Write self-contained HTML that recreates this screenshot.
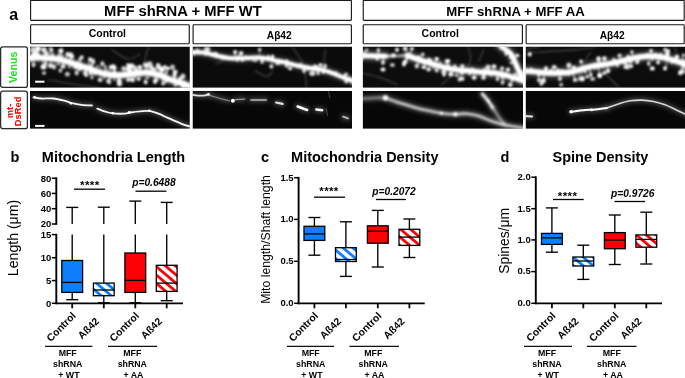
<!DOCTYPE html>
<html><head><meta charset="utf-8"><title>Figure</title>
<style>html,body{margin:0;padding:0;background:#fff}svg{display:block}</style></head>
<body>
<svg width="685" height="378" viewBox="0 0 685 378" font-family='"Liberation Sans", sans-serif'>
<defs>
<pattern id="hb" width="6.4" height="6.4" patternUnits="userSpaceOnUse" patternTransform="rotate(40)"><rect width="6.4" height="6.4" fill="#fff"/><rect width="6.5" height="2.8" fill="#0c80fc"/></pattern>
<pattern id="hr" width="6.4" height="6.4" patternUnits="userSpaceOnUse" patternTransform="rotate(40)"><rect width="6.4" height="6.4" fill="#fff"/><rect width="6.5" height="2.8" fill="#fb0207"/></pattern>
<filter id="b1" filterUnits="userSpaceOnUse" x="0" y="30" width="685" height="120"><feGaussianBlur stdDeviation="0.8"/></filter>
<filter id="b2" filterUnits="userSpaceOnUse" x="0" y="30" width="685" height="120"><feGaussianBlur stdDeviation="0.75"/></filter>
<filter id="b4" filterUnits="userSpaceOnUse" x="0" y="30" width="685" height="120"><feGaussianBlur stdDeviation="1.25"/></filter>
<filter id="b3" filterUnits="userSpaceOnUse" x="0" y="30" width="685" height="120"><feGaussianBlur stdDeviation="2.0"/></filter>
</defs>
<rect width="685" height="378" fill="#fff"/>
<rect x="30.6" y="0.3" width="320.80" height="20.10" fill="#fff" stroke="#1a1a1a" stroke-width="1.15" rx="0.8"/>
<rect x="363.25" y="0.3" width="320.95" height="20.10" fill="#fff" stroke="#1a1a1a" stroke-width="1.15" rx="0.8"/>
<text x="182.9" y="15.7" font-size="14.3" font-weight="bold" text-anchor="middle" fill="#000" textLength="157.6" lengthAdjust="spacingAndGlyphs">MFF shRNA + MFF WT</text>
<text x="515.5" y="16.1" font-size="13.7" font-weight="bold" text-anchor="middle" fill="#000" textLength="138.4" lengthAdjust="spacingAndGlyphs">MFF shRNA + MFF AA</text>
<rect x="30.6" y="24.7" width="158.65" height="19.05" fill="#fff" stroke="#1a1a1a" stroke-width="1.15" rx="0.8"/>
<text x="107.325" y="37.4" font-size="10.5" font-weight="bold" text-anchor="middle" fill="#000">Control</text>
<rect x="193.1" y="24.7" width="158.30" height="19.05" fill="#fff" stroke="#1a1a1a" stroke-width="1.15" rx="0.8"/>
<text x="279.25" y="38.8" font-size="10.2" font-weight="bold" text-anchor="middle" fill="#000">Aβ42</text>
<rect x="363.25" y="24.7" width="159.15" height="19.05" fill="#fff" stroke="#1a1a1a" stroke-width="1.15" rx="0.8"/>
<text x="440.22499999999997" y="37.4" font-size="10.5" font-weight="bold" text-anchor="middle" fill="#000">Control</text>
<rect x="526.15" y="24.7" width="158.05" height="19.05" fill="#fff" stroke="#1a1a1a" stroke-width="1.15" rx="0.8"/>
<text x="612.175" y="38.8" font-size="10.2" font-weight="bold" text-anchor="middle" fill="#000">Aβ42</text>
<text x="13.7" y="19.6" font-size="16" font-weight="bold" text-anchor="middle" fill="#000">a</text>
<rect x="0.6" y="46.8" width="26.80" height="40.60" fill="#fff" stroke="#2a2a2a" stroke-width="1.3" rx="2.2"/>
<rect x="0.6" y="91.2" width="26.80" height="37.40" fill="#fff" stroke="#2a2a2a" stroke-width="1.3" rx="2.2"/>
<text x="17.3" y="67.3" font-size="10.7" font-weight="bold" text-anchor="middle" fill="#14e614" transform="rotate(-90 17.3 67.3)">Venus</text>
<text x="12.5" y="111" font-size="9.3" font-weight="bold" text-anchor="middle" fill="#f00" transform="rotate(-90 12.5 111)">mt-</text>
<text x="21.5" y="111.4" font-size="9.3" font-weight="bold" text-anchor="middle" fill="#f00" transform="rotate(-90 21.5 111.4)">DsRed</text>
<clipPath id="cv0"><rect x="30.0" y="46.5" width="159.85" height="41.30"/></clipPath>
<g clip-path="url(#cv0)"><rect x="30.0" y="46.5" width="159.85" height="41.30" fill="#0c0c0c"/>
<g filter="url(#b1)" fill="none" stroke="#fff" stroke-opacity=".25" stroke-width="1.1" stroke-linecap="round">
<path d="M111.8,49.7 C114.5,51.2 123.4,58.2 128.1,59.0 C132.8,59.8 137.8,55.1 139.8,54.3"/>
<path d="M144.5,63.7 C144.8,61.7 146.0,54.7 146.8,52.0 C147.6,49.3 148.7,48.1 149.1,47.3"/>
<path d="M48.7,80.0 C53.4,80.8 68.2,83.3 76.7,84.7 C85.3,86.1 96.2,87.6 100.1,88.2"/>
</g>
<g filter="url(#b3)" fill="none" stroke="#fff" stroke-opacity="0.3" stroke-linecap="round">
<path d="M27.7,57.8 C30.0,57.8 37.4,57.7 41.7,57.8 C46.0,58.0 49.5,58.0 53.4,58.5 C57.3,59.1 61.1,59.8 65.0,60.9 C68.9,61.9 72.8,63.6 76.7,64.9 C80.6,66.1 84.5,67.1 88.4,68.4 C92.3,69.6 96.2,71.5 100.1,72.6 C104.0,73.7 107.9,74.5 111.8,74.9 C115.6,75.3 119.5,75.1 123.4,74.9 C127.3,74.7 131.2,73.9 135.1,73.5 C139.0,73.1 142.9,72.3 146.8,72.6 C150.7,72.8 154.6,73.7 158.5,74.9 C162.4,76.1 166.3,78.1 170.1,79.6 C174.0,81.0 177.9,82.3 181.8,83.5 C185.7,84.8 191.6,86.5 193.5,87.0" stroke-width="9.6"/>
</g>
<g filter="url(#b1)" fill="#fff" stroke="#fff" stroke-linecap="round">
<path d="M27.7,57.8 C30.0,57.8 37.4,57.7 41.7,57.8 C46.0,58.0 49.5,58.0 53.4,58.5 C57.3,59.1 61.1,59.8 65.0,60.9 C68.9,61.9 72.8,63.6 76.7,64.9 C80.6,66.1 84.5,67.1 88.4,68.4 C92.3,69.6 96.2,71.5 100.1,72.6 C104.0,73.7 107.9,74.5 111.8,74.9 C115.6,75.3 119.5,75.1 123.4,74.9 C127.3,74.7 131.2,73.9 135.1,73.5 C139.0,73.1 142.9,72.3 146.8,72.6 C150.7,72.8 154.6,73.7 158.5,74.9 C162.4,76.1 166.3,78.1 170.1,79.6 C174.0,81.0 177.9,82.3 181.8,83.5 C185.7,84.8 191.6,86.5 193.5,87.0" stroke-width="5.6" fill="none"/>
<circle cx="32.2" cy="54.6" r="0.9" stroke="none"/>
<circle cx="39.2" cy="54.7" r="0.9" stroke="none"/>
<circle cx="34.8" cy="55.5" r="1.2" stroke="none"/>
<circle cx="31.0" cy="60.2" r="1.2" stroke="none"/>
<circle cx="53.0" cy="54.7" r="1.1" stroke="none"/>
<circle cx="53.3" cy="54.8" r="1.0" stroke="none"/>
<circle cx="46.8" cy="54.4" r="1.2" stroke="none"/>
<circle cx="62.1" cy="56.4" r="1.3" stroke="none"/>
<circle cx="58.4" cy="55.7" r="1.3" stroke="none"/>
<circle cx="58.3" cy="64.0" r="1.2" stroke="none"/>
<circle cx="74.9" cy="67.4" r="1.4" stroke="none"/>
<circle cx="74.0" cy="61.4" r="1.1" stroke="none"/>
<circle cx="69.5" cy="66.9" r="1.1" stroke="none"/>
<circle cx="77.6" cy="61.4" r="1.0" stroke="none"/>
<circle cx="79.7" cy="69.3" r="1.5" stroke="none"/>
<circle cx="76.7" cy="68.1" r="1.1" stroke="none"/>
<circle cx="81.8" cy="68.8" r="1.0" stroke="none"/>
<circle cx="80.5" cy="63.6" r="1.3" stroke="none"/>
<circle cx="95.0" cy="73.9" r="1.1" stroke="none"/>
<circle cx="97.8" cy="66.6" r="1.1" stroke="none"/>
<circle cx="94.7" cy="73.1" r="1.4" stroke="none"/>
<circle cx="91.0" cy="65.8" r="1.5" stroke="none"/>
<circle cx="106.5" cy="70.4" r="1.2" stroke="none"/>
<circle cx="109.5" cy="79.1" r="1.1" stroke="none"/>
<circle cx="104.1" cy="77.5" r="1.1" stroke="none"/>
<circle cx="114.4" cy="72.3" r="1.0" stroke="none"/>
<circle cx="114.5" cy="79.4" r="1.0" stroke="none"/>
<circle cx="115.0" cy="71.6" r="1.1" stroke="none"/>
<circle cx="129.6" cy="70.0" r="1.2" stroke="none"/>
<circle cx="130.2" cy="70.6" r="1.4" stroke="none"/>
<circle cx="134.9" cy="76.8" r="1.1" stroke="none"/>
<circle cx="140.9" cy="75.4" r="0.9" stroke="none"/>
<circle cx="137.4" cy="70.9" r="1.3" stroke="none"/>
<circle cx="136.0" cy="69.7" r="1.5" stroke="none"/>
<circle cx="154.9" cy="69.4" r="1.3" stroke="none"/>
<circle cx="147.6" cy="77.7" r="1.3" stroke="none"/>
<circle cx="153.2" cy="69.2" r="1.5" stroke="none"/>
<circle cx="162.8" cy="79.9" r="1.0" stroke="none"/>
<circle cx="165.9" cy="81.7" r="1.3" stroke="none"/>
<circle cx="166.3" cy="72.8" r="1.2" stroke="none"/>
<circle cx="161.8" cy="71.6" r="1.1" stroke="none"/>
<circle cx="179.0" cy="78.2" r="1.1" stroke="none"/>
<circle cx="175.4" cy="78.0" r="1.0" stroke="none"/>
<circle cx="175.2" cy="85.5" r="1.3" stroke="none"/>
<circle cx="180.8" cy="78.5" r="1.4" stroke="none"/>
<circle cx="191.2" cy="83.5" r="1.2" stroke="none"/>
<circle cx="191.6" cy="81.9" r="1.2" stroke="none"/>
<circle cx="183.1" cy="87.5" r="1.5" stroke="none"/>
<circle cx="192.7" cy="89.3" r="1.0" stroke="none"/>
<path d="M33.5,57.8 L33.5,49.7" stroke-width="1.8" stroke-opacity="0.46" fill="none"/>
<ellipse cx="33.5" cy="49.7" rx="2.9" ry="3.5" stroke="none" fill-opacity="0.80"/>
<path d="M38.2,57.8 L38.2,48.5" stroke-width="1.4" stroke-opacity="0.31" fill="none"/>
<ellipse cx="38.2" cy="48.5" rx="2.6" ry="3.1" stroke="none" fill-opacity="1.00"/>
<path d="M43.5,58.0 L44.0,49.7" stroke-width="1.6" stroke-opacity="0.42" fill="none"/>
<ellipse cx="44.0" cy="49.7" rx="2.8" ry="2.8" stroke="none" fill-opacity="0.88"/>
<path d="M35.8,57.8 L35.8,53.9" stroke-width="1.8" stroke-opacity="0.60" fill="none"/>
<ellipse cx="35.8" cy="53.9" rx="3.7" ry="2.9" stroke="none" fill-opacity="0.91"/>
<path d="M46.1,58.1 L46.4,53.2" stroke-width="1.6" stroke-opacity="0.30" fill="none"/>
<ellipse cx="46.4" cy="53.2" rx="2.4" ry="2.3" stroke="none" fill-opacity="0.80"/>
<path d="M58.6,59.6 L60.4,50.8" stroke-width="2.2" stroke-opacity="0.54" fill="none"/>
<ellipse cx="60.4" cy="50.8" rx="2.6" ry="1.9" stroke="none" fill-opacity="0.78"/>
<path d="M65.1,60.9 L67.4,54.3" stroke-width="2.1" stroke-opacity="0.43" fill="none"/>
<ellipse cx="67.4" cy="54.3" rx="1.9" ry="2.5" stroke="none" fill-opacity="0.91"/>
<path d="M70.0,62.6 L72.0,56.7" stroke-width="1.8" stroke-opacity="0.58" fill="none"/>
<ellipse cx="72.0" cy="56.7" rx="2.2" ry="2.3" stroke="none" fill-opacity="0.85"/>
<path d="M78.3,65.3 L80.2,59.0" stroke-width="1.5" stroke-opacity="0.31" fill="none"/>
<ellipse cx="80.2" cy="59.0" rx="1.7" ry="2.0" stroke="none" fill-opacity="0.76"/>
<path d="M90.3,69.0 L93.1,61.4" stroke-width="2.2" stroke-opacity="0.36" fill="none"/>
<ellipse cx="93.1" cy="61.4" rx="2.1" ry="3.0" stroke="none" fill-opacity="0.83"/>
<path d="M99.3,72.3 L102.4,63.7" stroke-width="1.5" stroke-opacity="0.35" fill="none"/>
<ellipse cx="102.4" cy="63.7" rx="2.2" ry="2.4" stroke="none" fill-opacity="0.80"/>
<path d="M109.1,74.4 L110.6,67.2" stroke-width="1.6" stroke-opacity="0.56" fill="none"/>
<ellipse cx="110.6" cy="67.2" rx="1.8" ry="2.4" stroke="none" fill-opacity="0.91"/>
<path d="M124.2,74.8 L123.4,68.4" stroke-width="1.9" stroke-opacity="0.36" fill="none"/>
<ellipse cx="123.4" cy="68.4" rx="2.1" ry="2.4" stroke="none" fill-opacity="0.79"/>
<path d="M131.3,74.0 L130.4,67.2" stroke-width="2.2" stroke-opacity="0.49" fill="none"/>
<ellipse cx="130.4" cy="67.2" rx="1.8" ry="2.4" stroke="none" fill-opacity="0.77"/>
<path d="M140.3,73.1 L139.8,67.2" stroke-width="1.9" stroke-opacity="0.57" fill="none"/>
<ellipse cx="139.8" cy="67.2" rx="2.5" ry="2.3" stroke="none" fill-opacity="0.95"/>
<path d="M146.8,72.6 L146.8,66.0" stroke-width="1.9" stroke-opacity="0.29" fill="none"/>
<ellipse cx="146.8" cy="66.0" rx="2.4" ry="2.3" stroke="none" fill-opacity="0.82"/>
<path d="M150.2,73.3 L151.5,67.2" stroke-width="1.7" stroke-opacity="0.51" fill="none"/>
<ellipse cx="151.5" cy="67.2" rx="2.1" ry="2.4" stroke="none" fill-opacity="0.88"/>
<path d="M158.5,74.9 L160.8,68.4" stroke-width="1.9" stroke-opacity="0.59" fill="none"/>
<ellipse cx="160.8" cy="68.4" rx="1.9" ry="2.5" stroke="none" fill-opacity="0.94"/>
<path d="M164.3,77.2 L167.8,68.4" stroke-width="2.0" stroke-opacity="0.65" fill="none"/>
<ellipse cx="167.8" cy="68.4" rx="2.2" ry="1.8" stroke="none" fill-opacity="0.95"/>
<ellipse cx="172.5" cy="67.2" rx="2.4" ry="2.7" stroke="none" fill-opacity="0.76"/>
<ellipse cx="44.0" cy="73.0" rx="2.1" ry="1.7" stroke="none" fill-opacity="0.84"/>
<path d="M62.4,60.4 L60.4,70.7" stroke-width="1.8" stroke-opacity="0.30" fill="none"/>
<ellipse cx="60.4" cy="70.7" rx="1.9" ry="2.1" stroke="none" fill-opacity="0.75"/>
<ellipse cx="67.4" cy="74.2" rx="2.5" ry="2.4" stroke="none" fill-opacity="0.77"/>
<path d="M79.0,65.5 L76.7,73.0" stroke-width="1.8" stroke-opacity="0.46" fill="none"/>
<ellipse cx="76.7" cy="73.0" rx="2.1" ry="2.4" stroke="none" fill-opacity="0.77"/>
<path d="M92.0,69.6 L90.7,73.0" stroke-width="1.6" stroke-opacity="0.58" fill="none"/>
<ellipse cx="90.7" cy="73.0" rx="1.9" ry="2.2" stroke="none" fill-opacity="0.96"/>
<path d="M101.5,72.8 L100.1,80.0" stroke-width="2.1" stroke-opacity="0.29" fill="none"/>
<ellipse cx="100.1" cy="80.0" rx="2.4" ry="1.9" stroke="none" fill-opacity="0.87"/>
<path d="M109.6,74.5 L108.2,81.2" stroke-width="1.9" stroke-opacity="0.29" fill="none"/>
<ellipse cx="108.2" cy="81.2" rx="2.2" ry="2.0" stroke="none" fill-opacity="0.76"/>
<path d="M118.8,74.9 L118.8,81.2" stroke-width="2.0" stroke-opacity="0.50" fill="none"/>
<ellipse cx="118.8" cy="81.2" rx="1.8" ry="2.1" stroke="none" fill-opacity="0.91"/>
<path d="M127.4,74.4 L128.1,80.0" stroke-width="2.2" stroke-opacity="0.30" fill="none"/>
<ellipse cx="128.1" cy="80.0" rx="1.9" ry="2.1" stroke="none" fill-opacity="0.87"/>
<path d="M132.0,73.9 L132.8,80.0" stroke-width="1.6" stroke-opacity="0.45" fill="none"/>
<ellipse cx="132.8" cy="80.0" rx="2.1" ry="2.3" stroke="none" fill-opacity="0.93"/>
<path d="M138.2,73.3 L138.6,78.9" stroke-width="1.6" stroke-opacity="0.30" fill="none"/>
<ellipse cx="138.6" cy="78.9" rx="2.1" ry="1.9" stroke="none" fill-opacity="0.89"/>
<path d="M157.2,74.6 L156.1,80.0" stroke-width="1.8" stroke-opacity="0.54" fill="none"/>
<ellipse cx="156.1" cy="80.0" rx="2.5" ry="2.0" stroke="none" fill-opacity="0.77"/>
<path d="M165.5,77.7 L163.1,83.5" stroke-width="2.1" stroke-opacity="0.32" fill="none"/>
<ellipse cx="163.1" cy="83.5" rx="1.6" ry="2.1" stroke="none" fill-opacity="0.98"/>
<path d="M179.0,82.6 L179.5,81.2" stroke-width="1.7" stroke-opacity="0.44" fill="none"/>
<ellipse cx="179.5" cy="81.2" rx="2.2" ry="1.9" stroke="none" fill-opacity="0.82"/>
<path d="M183.6,84.1 L184.2,82.4" stroke-width="1.7" stroke-opacity="0.39" fill="none"/>
<ellipse cx="184.2" cy="82.4" rx="2.4" ry="2.0" stroke="none" fill-opacity="0.78"/>
<path d="M33.5,57.8 L33.5,64.9" stroke-width="2.2" stroke-opacity="0.45" fill="none"/>
<ellipse cx="33.5" cy="64.9" rx="2.0" ry="2.3" stroke="none" fill-opacity="0.79"/>
<path d="M43.4,58.0 L42.8,67.2" stroke-width="1.7" stroke-opacity="0.30" fill="none"/>
<ellipse cx="42.8" cy="67.2" rx="2.0" ry="2.0" stroke="none" fill-opacity="0.85"/>
<path d="M114.0,74.9 L114.0,67.5" stroke-width="1.7" stroke-opacity="0.56" fill="none"/>
<ellipse cx="114.0" cy="67.5" rx="2.4" ry="2.2" stroke="none" fill-opacity="0.83"/>
<path d="M144.9,72.7 L145.7,82.1" stroke-width="1.6" stroke-opacity="0.30" fill="none"/>
<ellipse cx="145.7" cy="82.1" rx="2.0" ry="2.3" stroke="none" fill-opacity="0.93"/>
<path d="M147.8,72.8 L149.6,63.6" stroke-width="2.1" stroke-opacity="0.46" fill="none"/>
<ellipse cx="149.6" cy="63.6" rx="2.9" ry="2.3" stroke="none" fill-opacity="0.77"/>
<path d="M172.5,80.4 L174.8,73.6" stroke-width="1.9" stroke-opacity="0.42" fill="none"/>
<ellipse cx="174.8" cy="73.6" rx="2.0" ry="2.8" stroke="none" fill-opacity="0.76"/>
<path d="M51.0,58.4 L50.6,65.7" stroke-width="1.7" stroke-opacity="0.52" fill="none"/>
<ellipse cx="50.6" cy="65.7" rx="2.7" ry="2.4" stroke="none" fill-opacity="0.86"/>
<path d="M50.1,58.4 L50.7,48.6" stroke-width="2.0" stroke-opacity="0.35" fill="none"/>
<ellipse cx="50.7" cy="48.6" rx="2.0" ry="1.7" stroke="none" fill-opacity="0.76"/>
<path d="M145.7,72.7 L145.0,64.7" stroke-width="1.5" stroke-opacity="0.54" fill="none"/>
<ellipse cx="145.0" cy="64.7" rx="2.2" ry="2.4" stroke="none" fill-opacity="0.80"/>
<path d="M119.4,74.9 L119.4,80.8" stroke-width="2.1" stroke-opacity="0.39" fill="none"/>
<ellipse cx="119.4" cy="80.8" rx="2.6" ry="2.3" stroke="none" fill-opacity="0.78"/>
<path d="M27.9,57.8 L27.9,50.2" stroke-width="1.7" stroke-opacity="0.33" fill="none"/>
<ellipse cx="27.9" cy="50.2" rx="2.4" ry="2.9" stroke="none" fill-opacity="0.79"/>
<path d="M113.4,74.9 L113.4,66.0" stroke-width="1.7" stroke-opacity="0.36" fill="none"/>
<ellipse cx="113.4" cy="66.0" rx="1.9" ry="2.0" stroke="none" fill-opacity="0.91"/>
<path d="M79.2,65.6 L81.7,57.3" stroke-width="1.9" stroke-opacity="0.26" fill="none"/>
<ellipse cx="81.7" cy="57.3" rx="2.0" ry="2.3" stroke="none" fill-opacity="0.78"/>
<path d="M128.3,74.3 L127.7,68.9" stroke-width="1.8" stroke-opacity="0.38" fill="none"/>
<ellipse cx="127.7" cy="68.9" rx="2.7" ry="2.4" stroke="none" fill-opacity="0.89"/>
<path d="M119.5,74.9 L119.5,83.9" stroke-width="1.6" stroke-opacity="0.33" fill="none"/>
<ellipse cx="119.5" cy="83.9" rx="2.7" ry="2.4" stroke="none" fill-opacity="0.89"/>
<path d="M59.6,59.8 L61.4,50.8" stroke-width="2.0" stroke-opacity="0.32" fill="none"/>
<ellipse cx="61.4" cy="50.8" rx="2.0" ry="2.9" stroke="none" fill-opacity="0.84"/>
<path d="M135.2,73.5 L134.7,67.6" stroke-width="2.0" stroke-opacity="0.32" fill="none"/>
<ellipse cx="134.7" cy="67.6" rx="2.0" ry="2.4" stroke="none" fill-opacity="0.85"/>
<path d="M159.9,75.5 L162.3,69.3" stroke-width="1.9" stroke-opacity="0.39" fill="none"/>
<ellipse cx="162.3" cy="69.3" rx="2.4" ry="2.3" stroke="none" fill-opacity="0.87"/>
<path d="M129.1,74.2 L128.0,65.0" stroke-width="2.1" stroke-opacity="0.32" fill="none"/>
<ellipse cx="128.0" cy="65.0" rx="2.0" ry="1.7" stroke="none" fill-opacity="0.95"/>
<path d="M68.3,62.0 L70.7,54.9" stroke-width="1.7" stroke-opacity="0.39" fill="none"/>
<ellipse cx="70.7" cy="54.9" rx="2.6" ry="2.7" stroke="none" fill-opacity="0.91"/>
<path d="M180.6,83.1 L182.9,76.3" stroke-width="1.7" stroke-opacity="0.47" fill="none"/>
<ellipse cx="182.9" cy="76.3" rx="2.6" ry="2.8" stroke="none" fill-opacity="0.78"/>
<path d="M130.5,74.0 L129.5,65.7" stroke-width="1.5" stroke-opacity="0.59" fill="none"/>
<ellipse cx="129.5" cy="65.7" rx="2.5" ry="2.2" stroke="none" fill-opacity="0.87"/>
<path d="M132.9,73.8 L131.9,65.4" stroke-width="1.8" stroke-opacity="0.53" fill="none"/>
<ellipse cx="131.9" cy="65.4" rx="2.3" ry="2.2" stroke="none" fill-opacity="0.87"/>
<path d="M87.5,68.1 L90.1,59.4" stroke-width="1.5" stroke-opacity="0.63" fill="none"/>
<ellipse cx="90.1" cy="59.4" rx="2.0" ry="2.1" stroke="none" fill-opacity="0.99"/>
<path d="M46.3,58.1 L45.9,63.6" stroke-width="1.5" stroke-opacity="0.59" fill="none"/>
<ellipse cx="45.9" cy="63.6" rx="1.5" ry="1.6" stroke="none" fill-opacity="0.97"/>
<path d="M44.2,58.0 L43.6,66.8" stroke-width="1.4" stroke-opacity="0.52" fill="none"/>
<ellipse cx="43.6" cy="66.8" rx="3.1" ry="2.8" stroke="none" fill-opacity="0.89"/>
<path d="M64.3,60.7 L63.2,66.4" stroke-width="1.7" stroke-opacity="0.53" fill="none"/>
<ellipse cx="63.2" cy="66.4" rx="2.2" ry="2.4" stroke="none" fill-opacity="0.88"/>
<path d="M114.3,74.9 L114.3,67.9" stroke-width="1.6" stroke-opacity="0.40" fill="none"/>
<ellipse cx="114.3" cy="67.9" rx="2.4" ry="1.8" stroke="none" fill-opacity="0.99"/>
<path d="M156.5,74.5 L158.2,66.2" stroke-width="2.2" stroke-opacity="0.36" fill="none"/>
<ellipse cx="158.2" cy="66.2" rx="2.5" ry="3.1" stroke="none" fill-opacity="0.88"/>
<path d="M104.0,73.4 L105.4,66.7" stroke-width="1.8" stroke-opacity="0.42" fill="none"/>
<ellipse cx="105.4" cy="66.7" rx="1.4" ry="1.7" stroke="none" fill-opacity="0.81"/>
<path d="M88.6,68.4 L86.2,75.2" stroke-width="1.4" stroke-opacity="0.34" fill="none"/>
<ellipse cx="86.2" cy="75.2" rx="2.0" ry="1.8" stroke="none" fill-opacity="0.91"/>
<path d="M94.4,70.5 L91.9,77.6" stroke-width="1.6" stroke-opacity="0.36" fill="none"/>
<ellipse cx="91.9" cy="77.6" rx="1.7" ry="1.7" stroke="none" fill-opacity="0.77"/>
<path d="M172.8,80.5 L174.6,75.2" stroke-width="2.0" stroke-opacity="0.41" fill="none"/>
<ellipse cx="174.6" cy="75.2" rx="1.9" ry="1.6" stroke="none" fill-opacity="0.92"/>
<path d="M172.3,80.3 L175.2,71.8" stroke-width="2.1" stroke-opacity="0.27" fill="none"/>
<ellipse cx="175.2" cy="71.8" rx="2.6" ry="2.3" stroke="none" fill-opacity="0.82"/>
<path d="M156.4,74.5 L155.0,81.4" stroke-width="1.6" stroke-opacity="0.46" fill="none"/>
<ellipse cx="155.0" cy="81.4" rx="2.0" ry="2.6" stroke="none" fill-opacity="0.94"/>
<path d="M130.1,74.1 L130.8,79.6" stroke-width="1.9" stroke-opacity="0.42" fill="none"/>
<ellipse cx="130.8" cy="79.6" rx="2.0" ry="1.7" stroke="none" fill-opacity="0.78"/>
<path d="M160.6,75.8 L163.0,69.8" stroke-width="1.4" stroke-opacity="0.53" fill="none"/>
<ellipse cx="163.0" cy="69.8" rx="2.0" ry="1.4" stroke="none" fill-opacity="0.98"/>
<path d="M51.0,58.4 L51.5,50.4" stroke-width="1.9" stroke-opacity="0.35" fill="none"/>
<ellipse cx="51.5" cy="50.4" rx="2.1" ry="1.7" stroke="none" fill-opacity="0.76"/>
<path d="M86.8,67.9 L85.3,72.9" stroke-width="2.0" stroke-opacity="0.37" fill="none"/>
<ellipse cx="85.3" cy="72.9" rx="2.3" ry="2.3" stroke="none" fill-opacity="0.86"/>
<path d="M110.9,74.7 L109.3,82.6" stroke-width="1.6" stroke-opacity="0.44" fill="none"/>
<ellipse cx="109.3" cy="82.6" rx="1.7" ry="1.7" stroke="none" fill-opacity="0.79"/>
<path d="M161.3,76.0 L164.8,67.0" stroke-width="2.0" stroke-opacity="0.53" fill="none"/>
<ellipse cx="164.8" cy="67.0" rx="2.3" ry="1.9" stroke="none" fill-opacity="0.83"/>
<path d="M55.7,59.0 L54.1,66.9" stroke-width="1.5" stroke-opacity="0.26" fill="none"/>
<ellipse cx="54.1" cy="66.9" rx="2.2" ry="2.6" stroke="none" fill-opacity="0.78"/>
</g>
<rect x="35.1" y="80.7" width="9.4" height="2" fill="#fff"/>
</g>
<clipPath id="cm0"><rect x="30.0" y="91.0" width="159.85" height="37.80"/></clipPath>
<g clip-path="url(#cm0)"><rect x="30.0" y="91.0" width="159.85" height="37.80" fill="#070707"/>
<g filter="url(#b3)" fill="none" stroke="#fff" stroke-opacity="0.25" stroke-linecap="round">
<path d="M33.5,97.3 C34.9,97.5 38.4,98.3 41.7,98.5 C45.0,98.7 49.5,98.1 53.4,98.5 C57.3,98.9 61.9,100.1 65.0,100.8 C68.2,101.6 69.3,102.5 72.0,103.2 C74.8,103.8 78.1,104.4 81.4,104.8 C84.7,105.2 90.1,105.4 91.9,105.5" stroke-width="4.8"/>
<path d="M97.3,108.6 C98.5,109.0 102.3,110.6 104.7,111.4 C107.2,112.1 108.6,112.8 111.8,113.2 C114.9,113.6 120.3,113.8 123.4,113.7 C126.5,113.6 127.7,112.9 130.4,112.5 C133.2,112.1 136.7,111.6 139.8,111.4 C142.9,111.1 146.0,110.5 149.1,110.9 C152.2,111.3 155.4,112.5 158.5,113.7 C161.6,114.9 164.7,116.5 167.8,117.9 C170.9,119.3 174.4,120.7 177.2,121.9 C179.9,123.0 181.4,124.0 184.2,124.9 C186.9,125.8 191.9,126.9 193.5,127.2" stroke-width="4.8"/>
</g>
<g filter="url(#b2)" fill="#fff" stroke="#fff" stroke-linecap="round">
<path d="M33.5,97.3 C34.9,97.5 38.4,98.3 41.7,98.5 C45.0,98.7 49.5,98.1 53.4,98.5 C57.3,98.9 61.9,100.1 65.0,100.8 C68.2,101.6 69.3,102.5 72.0,103.2 C74.8,103.8 78.1,104.4 81.4,104.8 C84.7,105.2 90.1,105.4 91.9,105.5" stroke-width="1.8" stroke-opacity="0.95" fill="none"/>
<path d="M97.3,108.6 C98.5,109.0 102.3,110.6 104.7,111.4 C107.2,112.1 108.6,112.8 111.8,113.2 C114.9,113.6 120.3,113.8 123.4,113.7 C126.5,113.6 127.7,112.9 130.4,112.5 C133.2,112.1 136.7,111.6 139.8,111.4 C142.9,111.1 146.0,110.5 149.1,110.9 C152.2,111.3 155.4,112.5 158.5,113.7 C161.6,114.9 164.7,116.5 167.8,117.9 C170.9,119.3 174.4,120.7 177.2,121.9 C179.9,123.0 181.4,124.0 184.2,124.9 C186.9,125.8 191.9,126.9 193.5,127.2" stroke-width="1.8" stroke-opacity="0.95" fill="none"/>
<circle cx="34.7" cy="97.3" r="1.4" stroke="none"/>
<circle cx="70.9" cy="103.4" r="1.2" stroke="none"/>
<circle cx="112.9" cy="113.2" r="1.2" stroke="none"/>
<circle cx="129.3" cy="112.3" r="1.4" stroke="none"/>
<circle cx="149.1" cy="110.7" r="1.3" stroke="none"/>
</g>
<rect x="35.1" y="124.9" width="9.4" height="2" fill="#fff"/>
</g>
<clipPath id="cv1"><rect x="192.5" y="46.5" width="159.50" height="41.30"/></clipPath>
<g clip-path="url(#cv1)"><rect x="192.5" y="46.5" width="159.50" height="41.30" fill="#0b0b0b"/>
<g filter="url(#b1)" fill="none" stroke="#fff" stroke-opacity=".25" stroke-width="1.1" stroke-linecap="round">
<path d="M292.4,47.3 C293.8,49.3 298.7,55.5 300.6,59.0 C302.6,62.5 303.1,63.7 304.1,68.4 C305.1,73.0 306.1,83.9 306.5,87.0"/>
<path d="M325.1,49.7 L324.0,63.7"/>
<path d="M255.1,70.7 C257.0,71.7 263.8,76.5 266.7,76.5 C269.7,76.5 271.6,71.7 272.6,70.7"/>
<path d="M215.4,63.7 L222.4,61.4"/>
</g>
<g filter="url(#b3)" fill="none" stroke="#fff" stroke-opacity="0.3" stroke-linecap="round">
<path d="M189.7,52.0 C192.0,52.1 199.4,51.9 203.7,52.5 C208.0,53.1 211.5,54.6 215.4,55.5 C219.3,56.4 223.1,57.3 227.0,57.8 C230.9,58.4 234.8,58.5 238.7,58.5 C242.6,58.5 246.5,58.0 250.4,57.8 C254.3,57.7 258.2,57.5 262.1,57.8 C266.0,58.2 269.9,59.4 273.8,60.2 C277.6,61.0 281.5,61.6 285.4,62.5 C289.3,63.4 293.2,64.7 297.1,65.6 C301.0,66.5 304.9,67.2 308.8,67.9 C312.7,68.6 316.6,68.7 320.5,69.5 C324.4,70.4 328.3,71.7 332.1,73.0 C336.0,74.4 339.9,76.2 343.8,77.7 C347.7,79.2 353.6,81.2 355.5,81.9" stroke-width="6.7"/>
</g>
<g filter="url(#b1)" fill="#fff" stroke="#fff" stroke-linecap="round">
<path d="M189.7,52.0 C192.0,52.1 199.4,51.9 203.7,52.5 C208.0,53.1 211.5,54.6 215.4,55.5 C219.3,56.4 223.1,57.3 227.0,57.8 C230.9,58.4 234.8,58.5 238.7,58.5 C242.6,58.5 246.5,58.0 250.4,57.8 C254.3,57.7 258.2,57.5 262.1,57.8 C266.0,58.2 269.9,59.4 273.8,60.2 C277.6,61.0 281.5,61.6 285.4,62.5 C289.3,63.4 293.2,64.7 297.1,65.6 C301.0,66.5 304.9,67.2 308.8,67.9 C312.7,68.6 316.6,68.7 320.5,69.5 C324.4,70.4 328.3,71.7 332.1,73.0 C336.0,74.4 339.9,76.2 343.8,77.7 C347.7,79.2 353.6,81.2 355.5,81.9" stroke-width="4.2" fill="none"/>
<circle cx="197.6" cy="50.0" r="1.4" stroke="none"/>
<circle cx="193.9" cy="54.1" r="1.3" stroke="none"/>
<circle cx="205.4" cy="55.1" r="1.1" stroke="none"/>
<circle cx="214.8" cy="52.7" r="1.0" stroke="none"/>
<circle cx="222.3" cy="58.8" r="0.9" stroke="none"/>
<circle cx="216.5" cy="53.6" r="1.3" stroke="none"/>
<circle cx="237.4" cy="60.7" r="1.1" stroke="none"/>
<circle cx="238.3" cy="56.4" r="1.3" stroke="none"/>
<circle cx="242.5" cy="60.5" r="1.3" stroke="none"/>
<circle cx="245.6" cy="56.3" r="1.0" stroke="none"/>
<circle cx="255.9" cy="60.9" r="1.1" stroke="none"/>
<circle cx="253.3" cy="60.7" r="1.0" stroke="none"/>
<circle cx="268.4" cy="56.2" r="1.3" stroke="none"/>
<circle cx="272.2" cy="57.2" r="1.1" stroke="none"/>
<circle cx="276.9" cy="63.7" r="1.3" stroke="none"/>
<circle cx="279.2" cy="64.1" r="1.0" stroke="none"/>
<circle cx="286.8" cy="60.4" r="1.2" stroke="none"/>
<circle cx="286.6" cy="65.9" r="1.5" stroke="none"/>
<circle cx="300.6" cy="64.1" r="1.2" stroke="none"/>
<circle cx="308.3" cy="69.8" r="1.0" stroke="none"/>
<circle cx="314.6" cy="65.9" r="1.4" stroke="none"/>
<circle cx="316.9" cy="66.2" r="1.1" stroke="none"/>
<circle cx="323.1" cy="72.7" r="1.3" stroke="none"/>
<circle cx="323.4" cy="68.3" r="1.0" stroke="none"/>
<circle cx="336.3" cy="72.3" r="1.1" stroke="none"/>
<circle cx="344.7" cy="75.2" r="1.0" stroke="none"/>
<circle cx="349.9" cy="77.8" r="1.2" stroke="none"/>
<circle cx="352.4" cy="84.0" r="0.9" stroke="none"/>
<path d="M206.2,53.1 L207.2,49.2" stroke-width="1.5" stroke-opacity="0.31" fill="none"/>
<ellipse cx="207.2" cy="49.2" rx="3.1" ry="2.7" stroke="none" fill-opacity="0.82"/>
<path d="M234.8,58.3 L235.2,52.0" stroke-width="1.7" stroke-opacity="0.64" fill="none"/>
<ellipse cx="235.2" cy="52.0" rx="2.1" ry="1.9" stroke="none" fill-opacity="0.98"/>
<path d="M241.4,58.4 L241.1,53.2" stroke-width="2.2" stroke-opacity="0.32" fill="none"/>
<ellipse cx="241.1" cy="53.2" rx="2.2" ry="2.2" stroke="none" fill-opacity="0.94"/>
<path d="M259.7,57.8 L259.7,49.7" stroke-width="1.7" stroke-opacity="0.29" fill="none"/>
<ellipse cx="259.7" cy="49.7" rx="1.9" ry="1.9" stroke="none" fill-opacity="0.80"/>
<path d="M262.8,58.0 L262.1,61.8" stroke-width="1.9" stroke-opacity="0.34" fill="none"/>
<ellipse cx="262.1" cy="61.8" rx="1.7" ry="2.0" stroke="none" fill-opacity="0.90"/>
<path d="M272.0,59.8 L272.6,56.7" stroke-width="1.5" stroke-opacity="0.39" fill="none"/>
<ellipse cx="272.6" cy="56.7" rx="1.7" ry="2.1" stroke="none" fill-opacity="0.92"/>
<path d="M272.7,60.0 L271.4,66.5" stroke-width="1.5" stroke-opacity="0.30" fill="none"/>
<ellipse cx="271.4" cy="66.5" rx="2.0" ry="2.1" stroke="none" fill-opacity="0.89"/>
<path d="M291.2,64.0 L290.1,68.4" stroke-width="1.5" stroke-opacity="0.33" fill="none"/>
<ellipse cx="290.1" cy="68.4" rx="2.0" ry="1.8" stroke="none" fill-opacity="0.91"/>
<path d="M304.8,67.1 L304.1,70.7" stroke-width="1.6" stroke-opacity="0.56" fill="none"/>
<ellipse cx="304.1" cy="70.7" rx="1.9" ry="2.2" stroke="none" fill-opacity="0.82"/>
<path d="M313.0,68.5 L312.3,73.5" stroke-width="1.7" stroke-opacity="0.54" fill="none"/>
<ellipse cx="312.3" cy="73.5" rx="3.1" ry="2.5" stroke="none" fill-opacity="0.84"/>
<path d="M318.7,69.3 L318.1,73.0" stroke-width="2.0" stroke-opacity="0.30" fill="none"/>
<ellipse cx="318.1" cy="73.0" rx="1.7" ry="2.4" stroke="none" fill-opacity="0.80"/>
<path d="M319.8,69.4 L320.5,64.9" stroke-width="2.1" stroke-opacity="0.40" fill="none"/>
<ellipse cx="320.5" cy="64.9" rx="2.2" ry="1.9" stroke="none" fill-opacity="0.86"/>
<path d="M323.8,70.5 L325.1,66.0" stroke-width="1.4" stroke-opacity="0.41" fill="none"/>
<ellipse cx="325.1" cy="66.0" rx="2.0" ry="2.2" stroke="none" fill-opacity="0.79"/>
<path d="M344.8,78.0 L346.2,74.2" stroke-width="1.9" stroke-opacity="0.35" fill="none"/>
<ellipse cx="346.2" cy="74.2" rx="2.1" ry="1.8" stroke="none" fill-opacity="0.77"/>
<path d="M347.0,78.8 L346.2,81.2" stroke-width="1.8" stroke-opacity="0.55" fill="none"/>
<ellipse cx="346.2" cy="81.2" rx="1.9" ry="2.3" stroke="none" fill-opacity="0.82"/>
</g>
</g>
<clipPath id="cm1"><rect x="192.5" y="91.0" width="159.50" height="37.80"/></clipPath>
<g clip-path="url(#cm1)"><rect x="192.5" y="91.0" width="159.50" height="37.80" fill="#070707"/>
<g filter="url(#b3)" fill="none" stroke="#fff" stroke-opacity="0.25" stroke-linecap="round">
<path d="M190.8,94.5 C192.6,94.7 198.4,95.7 201.3,95.7 C204.3,95.7 207.2,94.7 208.4,94.5" stroke-width="4.8"/>
<path d="M208.4,95.0 C210.3,95.6 216.5,97.5 220.0,98.5 C223.5,99.5 227.8,100.5 229.4,100.8" stroke-width="4.2"/>
<path d="M235.2,99.7 L244.6,99.2" stroke-width="4.2"/>
<path d="M250.9,100.1 L266.3,100.1" stroke-width="4.5"/>
<path d="M276.1,102.5 L282.6,103.9" stroke-width="5.2"/>
<path d="M297.6,106.5 L307.2,110.0" stroke-width="5.4"/>
<path d="M316.3,109.5 L322.3,110.2" stroke-width="5.4"/>
<path d="M343.1,116.7 L348.0,118.4" stroke-width="4.9"/>
</g>
<g filter="url(#b2)" fill="#fff" stroke="#fff" stroke-linecap="round">
<path d="M190.8,94.5 C192.6,94.7 198.4,95.7 201.3,95.7 C204.3,95.7 207.2,94.7 208.4,94.5" stroke-width="1.8" stroke-opacity="0.85" fill="none"/>
<path d="M208.4,95.0 C210.3,95.6 216.5,97.5 220.0,98.5 C223.5,99.5 227.8,100.5 229.4,100.8" stroke-width="1.2" stroke-opacity="0.45" fill="none"/>
<path d="M235.2,99.7 L244.6,99.2" stroke-width="1.2" stroke-opacity="0.50" fill="none"/>
<path d="M250.9,100.1 L266.3,100.1" stroke-width="1.5" stroke-opacity="0.65" fill="none"/>
<path d="M276.1,102.5 L282.6,103.9" stroke-width="2.2" stroke-opacity="0.85" fill="none"/>
<path d="M297.6,106.5 L307.2,110.0" stroke-width="2.4" stroke-opacity="1.00" fill="none"/>
<path d="M316.3,109.5 L322.3,110.2" stroke-width="2.4" stroke-opacity="0.95" fill="none"/>
<path d="M343.1,116.7 L348.0,118.4" stroke-width="1.9" stroke-opacity="0.65" fill="none"/>
<circle cx="232.9" cy="100.8" r="2.0" stroke="none"/>
<circle cx="208.4" cy="94.3" r="1.3" stroke="none"/>
<path d="M328.6,91.5 L329.8,97.8" stroke-width="1" stroke-opacity=".25" fill="none"/>
<path d="M326.3,108.6 L327.5,115.6" stroke-width="1" stroke-opacity=".25" fill="none"/>
</g>
</g>
<clipPath id="cv2"><rect x="362.65" y="46.5" width="160.35" height="41.30"/></clipPath>
<g clip-path="url(#cv2)"><rect x="362.65" y="46.5" width="160.35" height="41.30" fill="#0d0d0d"/>
<g filter="url(#b1)" fill="none" stroke="#fff" stroke-opacity=".25" stroke-width="1.1" stroke-linecap="round">
<path d="M468.3,47.3 C468.7,49.3 470.8,55.5 470.6,59.0 C470.4,62.5 467.7,66.8 467.1,68.4"/>
<path d="M362.0,73.0 C365.1,73.8 374.8,75.8 380.7,77.7 C386.5,79.6 394.3,83.5 397.0,84.7"/>
<path d="M441.4,84.7 L455.4,73.0"/>
<path d="M483.5,49.7 L478.8,61.4"/>
</g>
<g filter="url(#b3)" fill="none" stroke="#fff" stroke-opacity="0.32" stroke-linecap="round">
<path d="M407.5,55.5 C409.7,56.3 416.3,58.8 420.4,60.2 C424.5,61.5 428.2,62.5 432.1,63.7 C436.0,64.9 439.9,66.2 443.8,67.2 C447.6,68.2 451.5,68.9 455.4,69.5 C459.3,70.1 463.2,70.3 467.1,70.7 C471.0,71.1 474.9,71.5 478.8,71.9 C482.7,72.2 486.6,72.2 490.5,72.6 C494.4,73.0 498.3,73.3 502.1,74.2 C506.0,75.1 509.9,76.5 513.8,77.7 C517.7,78.9 523.6,80.6 525.5,81.2" stroke-width="9.2"/>
<path d="M359.7,55.5 C362.0,55.6 369.4,55.9 373.7,56.0 C378.0,56.1 383.4,56.2 385.4,56.2" stroke-width="9.0"/>
<path d="M498.6,43.8 C499.8,44.8 503.5,47.8 505.6,49.7 C507.8,51.5 509.7,52.3 511.5,54.8 C513.2,57.3 514.2,60.6 516.2,64.9 C518.1,69.1 522.0,77.5 523.2,80.0" stroke-width="9.0"/>
</g>
<g filter="url(#b1)" fill="#fff" stroke="#fff" stroke-linecap="round">
<path d="M407.5,55.5 C409.7,56.3 416.3,58.8 420.4,60.2 C424.5,61.5 428.2,62.5 432.1,63.7 C436.0,64.9 439.9,66.2 443.8,67.2 C447.6,68.2 451.5,68.9 455.4,69.5 C459.3,70.1 463.2,70.3 467.1,70.7 C471.0,71.1 474.9,71.5 478.8,71.9 C482.7,72.2 486.6,72.2 490.5,72.6 C494.4,73.0 498.3,73.3 502.1,74.2 C506.0,75.1 509.9,76.5 513.8,77.7 C517.7,78.9 523.6,80.6 525.5,81.2" stroke-width="5.2" fill="none"/>
<path d="M359.7,55.5 C362.0,55.6 369.4,55.9 373.7,56.0 C378.0,56.1 383.4,56.2 385.4,56.2" stroke-width="5.0" fill="none"/>
<path d="M498.6,43.8 C499.8,44.8 503.5,47.8 505.6,49.7 C507.8,51.5 509.7,52.3 511.5,54.8 C513.2,57.3 514.2,60.6 516.2,64.9 C518.1,69.1 522.0,77.5 523.2,80.0" stroke-width="5.0" fill="none"/>
<path d="M385.4,56.2 C387.3,56.2 393.3,56.1 397.0,56.0 C400.7,55.9 405.8,55.6 407.5,55.5" stroke-width="3.5" fill="none" stroke-opacity="0.55"/>
<circle cx="418.8" cy="56.7" r="1.4" stroke="none"/>
<circle cx="407.2" cy="58.3" r="1.3" stroke="none"/>
<circle cx="428.8" cy="59.1" r="1.3" stroke="none"/>
<circle cx="430.9" cy="60.1" r="1.4" stroke="none"/>
<circle cx="440.3" cy="62.6" r="1.0" stroke="none"/>
<circle cx="433.6" cy="67.8" r="1.0" stroke="none"/>
<circle cx="448.5" cy="65.5" r="1.3" stroke="none"/>
<circle cx="454.9" cy="65.9" r="1.4" stroke="none"/>
<circle cx="463.0" cy="72.8" r="1.3" stroke="none"/>
<circle cx="461.5" cy="73.3" r="1.1" stroke="none"/>
<circle cx="469.7" cy="74.1" r="1.2" stroke="none"/>
<circle cx="472.5" cy="68.9" r="1.5" stroke="none"/>
<circle cx="484.0" cy="75.5" r="1.4" stroke="none"/>
<circle cx="484.3" cy="68.8" r="1.1" stroke="none"/>
<circle cx="490.9" cy="75.5" r="1.0" stroke="none"/>
<circle cx="496.0" cy="71.0" r="1.0" stroke="none"/>
<circle cx="512.0" cy="80.6" r="1.2" stroke="none"/>
<circle cx="501.9" cy="77.4" r="1.4" stroke="none"/>
<circle cx="515.2" cy="74.3" r="1.3" stroke="none"/>
<circle cx="524.1" cy="78.2" r="1.4" stroke="none"/>
<circle cx="363.8" cy="52.6" r="1.3" stroke="none"/>
<circle cx="362.7" cy="58.6" r="1.1" stroke="none"/>
<circle cx="377.4" cy="59.4" r="1.2" stroke="none"/>
<circle cx="376.6" cy="58.5" r="1.1" stroke="none"/>
<circle cx="500.5" cy="48.8" r="1.0" stroke="none"/>
<circle cx="506.0" cy="54.1" r="1.4" stroke="none"/>
<circle cx="510.1" cy="57.5" r="1.2" stroke="none"/>
<circle cx="511.3" cy="62.7" r="1.2" stroke="none"/>
<circle cx="522.1" cy="71.7" r="1.2" stroke="none"/>
<circle cx="519.9" cy="78.9" r="1.5" stroke="none"/>
<circle cx="517.8" cy="74.7" r="0.9" stroke="none"/>
<path d="M366.5,55.7 L366.7,50.1" stroke-width="1.5" stroke-opacity="0.26" fill="none"/>
<ellipse cx="366.7" cy="50.1" rx="1.7" ry="1.7" stroke="none" fill-opacity="0.87"/>
<path d="M378.2,56.1 L378.4,50.1" stroke-width="1.5" stroke-opacity="0.53" fill="none"/>
<ellipse cx="378.4" cy="50.1" rx="1.8" ry="2.2" stroke="none" fill-opacity="0.80"/>
<path d="M385.4,56.2 L393.5,55.5" stroke-width="1.6" stroke-opacity="0.43" fill="none"/>
<ellipse cx="393.5" cy="55.5" rx="2.3" ry="2.4" stroke="none" fill-opacity="0.91"/>
<ellipse cx="397.0" cy="49.7" rx="2.0" ry="2.2" stroke="none" fill-opacity="0.91"/>
<path d="M407.5,55.5 L405.2,48.5" stroke-width="1.5" stroke-opacity="0.48" fill="none"/>
<ellipse cx="405.2" cy="48.5" rx="2.5" ry="2.3" stroke="none" fill-opacity="0.88"/>
<path d="M383.1,56.2 L383.0,62.5" stroke-width="1.8" stroke-opacity="0.39" fill="none"/>
<ellipse cx="383.0" cy="62.5" rx="2.0" ry="2.4" stroke="none" fill-opacity="0.87"/>
<ellipse cx="392.4" cy="64.9" rx="2.5" ry="2.0" stroke="none" fill-opacity="0.77"/>
<path d="M407.5,55.5 L404.0,63.7" stroke-width="1.6" stroke-opacity="0.56" fill="none"/>
<ellipse cx="404.0" cy="63.7" rx="2.0" ry="2.7" stroke="none" fill-opacity="1.00"/>
<ellipse cx="383.0" cy="69.5" rx="2.5" ry="1.9" stroke="none" fill-opacity="0.98"/>
<path d="M419.2,59.7 L416.9,66.0" stroke-width="1.9" stroke-opacity="0.44" fill="none"/>
<ellipse cx="416.9" cy="66.0" rx="2.3" ry="2.5" stroke="none" fill-opacity="0.76"/>
<path d="M425.5,61.7 L423.9,67.2" stroke-width="1.6" stroke-opacity="0.67" fill="none"/>
<ellipse cx="423.9" cy="67.2" rx="2.4" ry="1.8" stroke="none" fill-opacity="0.99"/>
<path d="M430.5,63.2 L428.6,69.5" stroke-width="1.5" stroke-opacity="0.58" fill="none"/>
<ellipse cx="428.6" cy="69.5" rx="2.4" ry="1.9" stroke="none" fill-opacity="0.88"/>
<path d="M438.2,65.5 L436.7,70.2" stroke-width="2.1" stroke-opacity="0.30" fill="none"/>
<ellipse cx="436.7" cy="70.2" rx="2.0" ry="2.2" stroke="none" fill-opacity="0.79"/>
<path d="M444.7,67.4 L443.8,71.9" stroke-width="2.1" stroke-opacity="0.56" fill="none"/>
<ellipse cx="443.8" cy="71.9" rx="2.5" ry="2.4" stroke="none" fill-opacity="0.84"/>
<path d="M420.9,60.3 L422.7,54.3" stroke-width="1.8" stroke-opacity="0.45" fill="none"/>
<ellipse cx="422.7" cy="54.3" rx="1.7" ry="1.7" stroke="none" fill-opacity="0.88"/>
<path d="M435.1,64.6 L436.7,59.0" stroke-width="1.6" stroke-opacity="0.65" fill="none"/>
<ellipse cx="436.7" cy="59.0" rx="2.3" ry="2.0" stroke="none" fill-opacity="0.99"/>
<path d="M447.0,67.8 L448.4,60.9" stroke-width="1.9" stroke-opacity="0.33" fill="none"/>
<ellipse cx="448.4" cy="60.9" rx="1.9" ry="2.0" stroke="none" fill-opacity="0.90"/>
<path d="M462.0,70.2 L462.4,66.0" stroke-width="1.5" stroke-opacity="0.63" fill="none"/>
<ellipse cx="462.4" cy="66.0" rx="2.3" ry="1.7" stroke="none" fill-opacity="0.91"/>
<path d="M457.2,69.7 L456.6,75.4" stroke-width="1.9" stroke-opacity="0.25" fill="none"/>
<ellipse cx="456.6" cy="75.4" rx="1.7" ry="1.7" stroke="none" fill-opacity="0.78"/>
<path d="M474.7,71.5 L474.1,77.7" stroke-width="2.0" stroke-opacity="0.37" fill="none"/>
<ellipse cx="474.1" cy="77.7" rx="2.5" ry="2.1" stroke="none" fill-opacity="0.96"/>
<path d="M483.8,72.2 L483.5,77.7" stroke-width="2.1" stroke-opacity="0.55" fill="none"/>
<ellipse cx="483.5" cy="77.7" rx="2.3" ry="2.0" stroke="none" fill-opacity="0.92"/>
<path d="M487.8,72.4 L488.1,67.2" stroke-width="1.6" stroke-opacity="0.25" fill="none"/>
<ellipse cx="488.1" cy="67.2" rx="2.7" ry="2.7" stroke="none" fill-opacity="0.81"/>
<path d="M493.1,72.9 L494.0,66.5" stroke-width="1.5" stroke-opacity="0.56" fill="none"/>
<ellipse cx="494.0" cy="66.5" rx="2.4" ry="2.3" stroke="none" fill-opacity="0.94"/>
<path d="M501.3,74.1 L502.1,68.4" stroke-width="2.0" stroke-opacity="0.44" fill="none"/>
<ellipse cx="502.1" cy="68.4" rx="2.1" ry="2.2" stroke="none" fill-opacity="0.78"/>
<path d="M498.2,73.6 L497.5,78.9" stroke-width="1.7" stroke-opacity="0.55" fill="none"/>
<ellipse cx="497.5" cy="78.9" rx="1.7" ry="2.3" stroke="none" fill-opacity="0.82"/>
<path d="M506.2,75.4 L508.0,69.5" stroke-width="2.0" stroke-opacity="0.53" fill="none"/>
<ellipse cx="508.0" cy="69.5" rx="2.1" ry="1.9" stroke="none" fill-opacity="0.98"/>
<path d="M512.8,57.6 L517.3,55.5" stroke-width="2.0" stroke-opacity="0.29" fill="none"/>
<ellipse cx="517.3" cy="55.5" rx="2.1" ry="1.8" stroke="none" fill-opacity="0.94"/>
<path d="M445.8,67.6 L447.1,61.2" stroke-width="1.4" stroke-opacity="0.46" fill="none"/>
<ellipse cx="447.1" cy="61.2" rx="2.4" ry="2.5" stroke="none" fill-opacity="0.87"/>
<path d="M462.9,70.3 L462.0,78.8" stroke-width="1.6" stroke-opacity="0.42" fill="none"/>
<ellipse cx="462.0" cy="78.8" rx="2.5" ry="2.3" stroke="none" fill-opacity="0.89"/>
<path d="M445.5,67.5 L444.1,74.5" stroke-width="1.4" stroke-opacity="0.41" fill="none"/>
<ellipse cx="444.1" cy="74.5" rx="1.7" ry="2.2" stroke="none" fill-opacity="0.94"/>
<path d="M409.2,56.1 L412.0,48.6" stroke-width="2.2" stroke-opacity="0.51" fill="none"/>
<ellipse cx="412.0" cy="48.6" rx="2.0" ry="1.7" stroke="none" fill-opacity="0.96"/>
<path d="M407.6,55.5 L405.3,61.7" stroke-width="1.5" stroke-opacity="0.56" fill="none"/>
<ellipse cx="405.3" cy="61.7" rx="2.6" ry="2.0" stroke="none" fill-opacity="0.89"/>
<path d="M504.8,75.0 L502.5,82.5" stroke-width="2.2" stroke-opacity="0.48" fill="none"/>
<ellipse cx="502.5" cy="82.5" rx="1.9" ry="2.3" stroke="none" fill-opacity="0.79"/>
<path d="M521.6,76.7 L525.2,75.1" stroke-width="1.5" stroke-opacity="0.38" fill="none"/>
<ellipse cx="525.2" cy="75.1" rx="2.2" ry="3.1" stroke="none" fill-opacity="0.89"/>
<path d="M452.0,68.8 L450.9,74.3" stroke-width="2.0" stroke-opacity="0.46" fill="none"/>
<ellipse cx="450.9" cy="74.3" rx="2.5" ry="2.2" stroke="none" fill-opacity="0.97"/>
<path d="M460.1,70.0 L459.2,79.6" stroke-width="1.7" stroke-opacity="0.43" fill="none"/>
<ellipse cx="459.2" cy="79.6" rx="1.5" ry="2.1" stroke="none" fill-opacity="0.83"/>
<path d="M512.6,77.3 L510.3,84.9" stroke-width="2.2" stroke-opacity="0.32" fill="none"/>
<ellipse cx="510.3" cy="84.9" rx="2.3" ry="2.4" stroke="none" fill-opacity="0.91"/>
</g>
</g>
<clipPath id="cm2"><rect x="362.65" y="91.0" width="160.35" height="37.80"/></clipPath>
<g clip-path="url(#cm2)"><rect x="362.65" y="91.0" width="160.35" height="37.80" fill="#070707"/>
<g filter="url(#b3)" fill="none" stroke="#fff" stroke-opacity="0.35" stroke-linecap="round">
<path d="M360.8,98.7 C363.4,98.6 371.9,98.0 376.0,97.8 C380.1,97.7 383.8,97.8 385.4,97.8" stroke-width="4.8"/>
<path d="M385.4,97.8 C387.3,98.5 393.1,100.7 397.0,102.0 C400.9,103.3 404.8,104.4 408.7,105.5 C412.6,106.7 416.5,108.0 420.4,109.0 C424.3,110.0 428.6,110.7 432.1,111.4 C435.6,112.1 437.5,112.8 441.4,113.2 C445.3,113.7 451.1,114.1 455.4,114.2 C459.7,114.2 463.2,113.4 467.1,113.7 C471.0,114.0 474.9,114.9 478.8,116.0 C482.7,117.2 486.6,119.3 490.5,120.7 C494.4,122.1 498.3,123.2 502.1,124.2 C506.0,125.2 509.9,125.9 513.8,126.5 C517.7,127.2 523.6,127.9 525.5,128.2" stroke-width="5.6"/>
<path d="M482.3,93.8 C483.3,95.0 486.4,98.5 488.1,100.8 C489.9,103.2 492.0,106.7 492.8,107.9" stroke-width="5.6"/>
<path d="M492.8,107.9 C494.0,109.6 497.8,115.6 499.8,118.4 C501.8,121.2 504.1,123.6 504.9,124.7" stroke-width="4.5"/>
</g>
<g filter="url(#b4)" fill="#fff" stroke="#fff" stroke-linecap="round">
<path d="M360.8,98.7 C363.4,98.6 371.9,98.0 376.0,97.8 C380.1,97.7 383.8,97.8 385.4,97.8" stroke-width="1.8" stroke-opacity="0.35" fill="none"/>
<path d="M385.4,97.8 C387.3,98.5 393.1,100.7 397.0,102.0 C400.9,103.3 404.8,104.4 408.7,105.5 C412.6,106.7 416.5,108.0 420.4,109.0 C424.3,110.0 428.6,110.7 432.1,111.4 C435.6,112.1 437.5,112.8 441.4,113.2 C445.3,113.7 451.1,114.1 455.4,114.2 C459.7,114.2 463.2,113.4 467.1,113.7 C471.0,114.0 474.9,114.9 478.8,116.0 C482.7,117.2 486.6,119.3 490.5,120.7 C494.4,122.1 498.3,123.2 502.1,124.2 C506.0,125.2 509.9,125.9 513.8,126.5 C517.7,127.2 523.6,127.9 525.5,128.2" stroke-width="2.6" stroke-opacity="0.67" fill="none"/>
<path d="M482.3,93.8 C483.3,95.0 486.4,98.5 488.1,100.8 C489.9,103.2 492.0,106.7 492.8,107.9" stroke-width="2.6" stroke-opacity="0.95" fill="none"/>
<path d="M492.8,107.9 C494.0,109.6 497.8,115.6 499.8,118.4 C501.8,121.2 504.1,123.6 504.9,124.7" stroke-width="1.5" stroke-opacity="0.50" fill="none"/>
<circle cx="385.4" cy="97.8" r="2.6" stroke="none"/>
<circle cx="441.4" cy="113.2" r="1.7" stroke="none"/>
<circle cx="455.4" cy="114.2" r="2.2" stroke="none"/>
<circle cx="488.1" cy="100.8" r="1.6" stroke="none"/>
</g>
</g>
<clipPath id="cv3"><rect x="525.55" y="46.5" width="159.45" height="41.30"/></clipPath>
<g clip-path="url(#cv3)"><rect x="525.55" y="46.5" width="159.45" height="41.30" fill="#0c0c0c"/>
<g filter="url(#b1)" fill="none" stroke="#fff" stroke-opacity=".25" stroke-width="1.1" stroke-linecap="round">
<path d="M525.0,50.8 C526.2,50.3 529.7,48.4 532.0,47.8 C534.3,47.2 537.8,47.4 539.0,47.3"/>
<path d="M529.7,52.5 C536.7,52.1 560.8,51.0 571.7,50.1 C582.6,49.3 591.2,47.8 595.1,47.3"/>
<path d="M590.4,52.0 L583.4,63.7"/>
<path d="M606.8,75.4 L618.4,87.0"/>
<path d="M674.5,47.3 L679.2,59.0"/>
</g>
<g filter="url(#b3)" fill="none" stroke="#fff" stroke-opacity="0.32" stroke-linecap="round">
<path d="M522.7,70.7 C525.0,70.9 532.4,71.5 536.7,71.9 C541.0,72.3 544.5,72.8 548.4,73.0 C552.3,73.2 556.1,73.2 560.0,73.0 C563.9,72.8 567.8,72.6 571.7,71.9 C575.6,71.1 579.5,69.4 583.4,68.4 C587.3,67.3 591.2,66.3 595.1,65.6 C599.0,64.9 602.9,64.8 606.8,64.2 C610.6,63.5 614.5,62.7 618.4,61.8 C622.3,61.0 626.2,59.9 630.1,59.0 C634.0,58.2 637.9,57.1 641.8,56.7 C645.7,56.2 649.6,56.0 653.5,56.2 C657.4,56.4 661.3,57.0 665.1,57.8 C669.0,58.7 672.9,60.1 676.8,61.4 C680.7,62.6 686.6,64.9 688.5,65.6" stroke-width="9.4"/>
</g>
<g filter="url(#b1)" fill="#fff" stroke="#fff" stroke-linecap="round">
<path d="M522.7,70.7 C525.0,70.9 532.4,71.5 536.7,71.9 C541.0,72.3 544.5,72.8 548.4,73.0 C552.3,73.2 556.1,73.2 560.0,73.0 C563.9,72.8 567.8,72.6 571.7,71.9 C575.6,71.1 579.5,69.4 583.4,68.4 C587.3,67.3 591.2,66.3 595.1,65.6 C599.0,64.9 602.9,64.8 606.8,64.2 C610.6,63.5 614.5,62.7 618.4,61.8 C622.3,61.0 626.2,59.9 630.1,59.0 C634.0,58.2 637.9,57.1 641.8,56.7 C645.7,56.2 649.6,56.0 653.5,56.2 C657.4,56.4 661.3,57.0 665.1,57.8 C669.0,58.7 672.9,60.1 676.8,61.4 C680.7,62.6 686.6,64.9 688.5,65.6" stroke-width="5.4" fill="none"/>
<circle cx="531.4" cy="68.6" r="1.1" stroke="none"/>
<circle cx="524.6" cy="74.1" r="1.3" stroke="none"/>
<circle cx="538.3" cy="75.3" r="1.1" stroke="none"/>
<circle cx="539.1" cy="75.1" r="1.4" stroke="none"/>
<circle cx="551.1" cy="70.3" r="1.4" stroke="none"/>
<circle cx="558.0" cy="69.7" r="1.5" stroke="none"/>
<circle cx="568.7" cy="74.8" r="1.1" stroke="none"/>
<circle cx="562.0" cy="70.2" r="1.3" stroke="none"/>
<circle cx="572.9" cy="67.7" r="1.4" stroke="none"/>
<circle cx="581.1" cy="71.9" r="1.0" stroke="none"/>
<circle cx="594.7" cy="68.4" r="1.1" stroke="none"/>
<circle cx="584.6" cy="71.7" r="1.2" stroke="none"/>
<circle cx="598.0" cy="68.2" r="1.0" stroke="none"/>
<circle cx="602.4" cy="67.1" r="1.0" stroke="none"/>
<circle cx="617.4" cy="65.6" r="1.3" stroke="none"/>
<circle cx="613.7" cy="59.4" r="1.3" stroke="none"/>
<circle cx="624.4" cy="63.2" r="1.3" stroke="none"/>
<circle cx="628.1" cy="56.0" r="1.3" stroke="none"/>
<circle cx="638.1" cy="61.0" r="1.2" stroke="none"/>
<circle cx="630.9" cy="62.0" r="1.3" stroke="none"/>
<circle cx="652.1" cy="59.7" r="1.1" stroke="none"/>
<circle cx="647.4" cy="54.0" r="1.2" stroke="none"/>
<circle cx="655.8" cy="53.4" r="1.0" stroke="none"/>
<circle cx="660.6" cy="53.9" r="1.2" stroke="none"/>
<circle cx="671.7" cy="63.0" r="1.1" stroke="none"/>
<circle cx="677.3" cy="57.6" r="1.0" stroke="none"/>
<circle cx="684.0" cy="60.4" r="1.3" stroke="none"/>
<circle cx="683.3" cy="66.6" r="1.1" stroke="none"/>
<ellipse cx="529.7" cy="54.3" rx="2.0" ry="2.3" stroke="none" fill-opacity="0.96"/>
<path d="M545.6,72.8 L546.0,68.4" stroke-width="1.6" stroke-opacity="0.44" fill="none"/>
<ellipse cx="546.0" cy="68.4" rx="2.1" ry="2.2" stroke="none" fill-opacity="0.95"/>
<path d="M554.2,73.0 L554.2,67.2" stroke-width="2.2" stroke-opacity="0.31" fill="none"/>
<ellipse cx="554.2" cy="67.2" rx="2.4" ry="2.1" stroke="none" fill-opacity="0.92"/>
<path d="M575.1,70.8 L574.1,67.2" stroke-width="1.6" stroke-opacity="0.45" fill="none"/>
<ellipse cx="574.1" cy="67.2" rx="1.9" ry="1.7" stroke="none" fill-opacity="0.91"/>
<path d="M583.2,68.4 L581.1,61.4" stroke-width="1.9" stroke-opacity="0.33" fill="none"/>
<ellipse cx="581.1" cy="61.4" rx="1.8" ry="2.0" stroke="none" fill-opacity="0.96"/>
<path d="M599.3,65.0 L598.6,59.0" stroke-width="1.8" stroke-opacity="0.50" fill="none"/>
<ellipse cx="598.6" cy="59.0" rx="2.3" ry="2.7" stroke="none" fill-opacity="0.96"/>
<path d="M605.1,64.4 L604.4,58.5" stroke-width="1.6" stroke-opacity="0.34" fill="none"/>
<ellipse cx="604.4" cy="58.5" rx="2.4" ry="2.5" stroke="none" fill-opacity="0.93"/>
<path d="M621.0,61.2 L619.6,55.5" stroke-width="1.7" stroke-opacity="0.46" fill="none"/>
<ellipse cx="619.6" cy="55.5" rx="2.1" ry="1.9" stroke="none" fill-opacity="0.79"/>
<path d="M651.3,56.3 L651.1,50.8" stroke-width="1.7" stroke-opacity="0.61" fill="none"/>
<ellipse cx="651.1" cy="50.8" rx="2.2" ry="1.8" stroke="none" fill-opacity="0.87"/>
<path d="M664.0,57.7 L665.1,49.7" stroke-width="1.9" stroke-opacity="0.26" fill="none"/>
<ellipse cx="665.1" cy="49.7" rx="1.7" ry="2.3" stroke="none" fill-opacity="0.84"/>
<path d="M666.3,58.2 L667.5,54.3" stroke-width="2.0" stroke-opacity="0.34" fill="none"/>
<ellipse cx="667.5" cy="54.3" rx="2.1" ry="2.3" stroke="none" fill-opacity="1.00"/>
<path d="M539.8,72.2 L539.0,80.0" stroke-width="1.6" stroke-opacity="0.37" fill="none"/>
<ellipse cx="539.0" cy="80.0" rx="2.2" ry="2.2" stroke="none" fill-opacity="0.79"/>
<ellipse cx="541.4" cy="83.5" rx="2.0" ry="2.3" stroke="none" fill-opacity="0.91"/>
<path d="M560.0,73.0 L560.0,78.9" stroke-width="2.1" stroke-opacity="0.37" fill="none"/>
<ellipse cx="560.0" cy="78.9" rx="2.0" ry="1.9" stroke="none" fill-opacity="0.89"/>
<ellipse cx="561.2" cy="84.7" rx="1.9" ry="2.0" stroke="none" fill-opacity="0.76"/>
<path d="M572.7,71.6 L575.2,80.0" stroke-width="1.7" stroke-opacity="0.61" fill="none"/>
<ellipse cx="575.2" cy="80.0" rx="2.4" ry="2.0" stroke="none" fill-opacity="0.87"/>
<path d="M577.3,70.2 L579.9,78.9" stroke-width="1.8" stroke-opacity="0.28" fill="none"/>
<ellipse cx="579.9" cy="78.9" rx="1.8" ry="2.3" stroke="none" fill-opacity="0.80"/>
<ellipse cx="592.7" cy="78.9" rx="2.7" ry="1.9" stroke="none" fill-opacity="0.78"/>
<path d="M598.5,65.1 L599.7,75.4" stroke-width="1.7" stroke-opacity="0.52" fill="none"/>
<ellipse cx="599.7" cy="75.4" rx="2.5" ry="2.7" stroke="none" fill-opacity="1.00"/>
<path d="M603.4,64.6 L604.4,73.0" stroke-width="1.5" stroke-opacity="0.27" fill="none"/>
<ellipse cx="604.4" cy="73.0" rx="2.4" ry="2.1" stroke="none" fill-opacity="0.85"/>
<path d="M623.8,60.5 L625.4,67.2" stroke-width="1.4" stroke-opacity="0.47" fill="none"/>
<ellipse cx="625.4" cy="67.2" rx="1.9" ry="1.8" stroke="none" fill-opacity="0.94"/>
<path d="M636.2,57.8 L637.1,62.5" stroke-width="1.9" stroke-opacity="0.45" fill="none"/>
<ellipse cx="637.1" cy="62.5" rx="2.2" ry="1.6" stroke="none" fill-opacity="0.79"/>
<path d="M648.5,56.4 L648.8,63.7" stroke-width="1.9" stroke-opacity="0.42" fill="none"/>
<ellipse cx="648.8" cy="63.7" rx="1.8" ry="2.2" stroke="none" fill-opacity="0.76"/>
<ellipse cx="652.3" cy="68.4" rx="2.5" ry="2.2" stroke="none" fill-opacity="0.97"/>
<path d="M658.9,57.0 L658.1,62.5" stroke-width="1.4" stroke-opacity="0.64" fill="none"/>
<ellipse cx="658.1" cy="62.5" rx="1.8" ry="1.9" stroke="none" fill-opacity="0.98"/>
<path d="M668.0,58.7 L665.1,68.4" stroke-width="2.1" stroke-opacity="0.35" fill="none"/>
<ellipse cx="665.1" cy="68.4" rx="2.1" ry="2.1" stroke="none" fill-opacity="0.93"/>
<path d="M683.6,63.8 L680.3,73.0" stroke-width="1.9" stroke-opacity="0.59" fill="none"/>
<ellipse cx="680.3" cy="73.0" rx="2.3" ry="2.3" stroke="none" fill-opacity="0.89"/>
<path d="M675.5,61.0 L676.8,56.7" stroke-width="2.0" stroke-opacity="0.45" fill="none"/>
<ellipse cx="676.8" cy="56.7" rx="2.3" ry="2.0" stroke="none" fill-opacity="0.96"/>
<path d="M523.7,70.8 L523.0,78.8" stroke-width="1.9" stroke-opacity="0.41" fill="none"/>
<ellipse cx="523.0" cy="78.8" rx="2.9" ry="2.5" stroke="none" fill-opacity="0.77"/>
<path d="M633.2,58.4 L631.9,52.0" stroke-width="2.0" stroke-opacity="0.41" fill="none"/>
<ellipse cx="631.9" cy="52.0" rx="1.8" ry="2.1" stroke="none" fill-opacity="0.79"/>
<path d="M629.8,59.1 L631.5,66.2" stroke-width="1.9" stroke-opacity="0.46" fill="none"/>
<ellipse cx="631.5" cy="66.2" rx="1.5" ry="2.0" stroke="none" fill-opacity="0.97"/>
<path d="M666.0,58.1 L668.1,51.1" stroke-width="2.1" stroke-opacity="0.39" fill="none"/>
<ellipse cx="668.1" cy="51.1" rx="1.9" ry="2.2" stroke="none" fill-opacity="1.00"/>
<path d="M569.6,72.1 L568.9,65.3" stroke-width="1.9" stroke-opacity="0.39" fill="none"/>
<ellipse cx="568.9" cy="65.3" rx="2.6" ry="2.7" stroke="none" fill-opacity="0.82"/>
<path d="M686.1,64.7 L683.6,71.6" stroke-width="2.0" stroke-opacity="0.49" fill="none"/>
<ellipse cx="683.6" cy="71.6" rx="1.7" ry="2.2" stroke="none" fill-opacity="0.84"/>
<path d="M626.0,60.0 L627.6,66.6" stroke-width="1.8" stroke-opacity="0.41" fill="none"/>
<ellipse cx="627.6" cy="66.6" rx="2.7" ry="3.0" stroke="none" fill-opacity="0.82"/>
<path d="M579.9,69.4 L582.7,78.7" stroke-width="1.4" stroke-opacity="0.31" fill="none"/>
<ellipse cx="582.7" cy="78.7" rx="2.0" ry="2.8" stroke="none" fill-opacity="0.98"/>
<path d="M606.8,64.1 L608.1,70.8" stroke-width="1.9" stroke-opacity="0.42" fill="none"/>
<ellipse cx="608.1" cy="70.8" rx="2.2" ry="2.5" stroke="none" fill-opacity="0.92"/>
<path d="M589.0,67.0 L590.9,74.8" stroke-width="2.1" stroke-opacity="0.54" fill="none"/>
<ellipse cx="590.9" cy="74.8" rx="1.6" ry="2.1" stroke="none" fill-opacity="0.99"/>
<path d="M585.2,67.9 L587.3,76.8" stroke-width="1.8" stroke-opacity="0.34" fill="none"/>
<ellipse cx="587.3" cy="76.8" rx="2.1" ry="1.5" stroke="none" fill-opacity="0.93"/>
<path d="M683.4,63.7 L680.4,72.0" stroke-width="1.5" stroke-opacity="0.61" fill="none"/>
<ellipse cx="680.4" cy="72.0" rx="1.8" ry="2.0" stroke="none" fill-opacity="0.99"/>
<path d="M680.9,62.8 L683.6,55.1" stroke-width="1.6" stroke-opacity="0.52" fill="none"/>
<ellipse cx="683.6" cy="55.1" rx="1.8" ry="1.7" stroke="none" fill-opacity="0.86"/>
<path d="M544.3,72.6 L543.5,80.6" stroke-width="1.9" stroke-opacity="0.56" fill="none"/>
<ellipse cx="543.5" cy="80.6" rx="2.4" ry="2.6" stroke="none" fill-opacity="0.91"/>
</g>
</g>
<clipPath id="cm3"><rect x="525.55" y="91.0" width="159.45" height="37.80"/></clipPath>
<g clip-path="url(#cm3)"><rect x="525.55" y="91.0" width="159.45" height="37.80" fill="#070707"/>
<g filter="url(#b3)" fill="none" stroke="#fff" stroke-opacity="0.25" stroke-linecap="round">
<path d="M523.8,116.0 L532.0,116.5" stroke-width="5.2"/>
<path d="M570.5,111.8 C572.7,111.6 579.3,110.6 583.4,110.2 C587.5,109.8 591.2,109.9 595.1,109.5 C599.0,109.1 604.8,108.1 606.8,107.9" stroke-width="5.0"/>
<path d="M606.8,107.9 C608.7,107.2 614.5,105.1 618.4,103.9 C622.3,102.7 626.2,101.5 630.1,100.8 C634.0,100.2 637.9,100.0 641.8,100.1 C645.7,100.3 649.6,100.8 653.5,101.5 C657.4,102.3 661.3,103.4 665.1,104.8 C669.0,106.3 672.9,108.4 676.8,110.2 C680.7,112.0 686.6,114.7 688.5,115.6" stroke-width="4.6"/>
</g>
<g filter="url(#b2)" fill="#fff" stroke="#fff" stroke-linecap="round">
<path d="M523.8,116.0 L532.0,116.5" stroke-width="2.2" stroke-opacity="0.85" fill="none"/>
<path d="M570.5,111.8 C572.7,111.6 579.3,110.6 583.4,110.2 C587.5,109.8 591.2,109.9 595.1,109.5 C599.0,109.1 604.8,108.1 606.8,107.9" stroke-width="2.0" stroke-opacity="1.00" fill="none"/>
<path d="M606.8,107.9 C608.7,107.2 614.5,105.1 618.4,103.9 C622.3,102.7 626.2,101.5 630.1,100.8 C634.0,100.2 637.9,100.0 641.8,100.1 C645.7,100.3 649.6,100.8 653.5,101.5 C657.4,102.3 661.3,103.4 665.1,104.8 C669.0,106.3 672.9,108.4 676.8,110.2 C680.7,112.0 686.6,114.7 688.5,115.6" stroke-width="1.6" stroke-opacity="0.80" fill="none"/>
<circle cx="571.2" cy="111.8" r="1.8" stroke="none"/>
<circle cx="591.6" cy="109.7" r="1.5" stroke="none"/>
</g>
</g>
<text x="10.5" y="162" font-size="14.5" font-weight="bold" text-anchor="start" fill="#000">b</text>
<text x="113.5" y="162.3" font-size="14.5" font-weight="bold" text-anchor="middle" fill="#000">Mitochondria Length</text>
<text x="17.7" y="238.0" font-size="14.1" font-weight="normal" text-anchor="middle" fill="#000" transform="rotate(-90 17.7 238.0)">Length (μm)</text>
<line x1="56.30" y1="177.40" x2="56.30" y2="224.80" stroke="#000" stroke-width="1.9" stroke-linecap="butt"/>
<line x1="56.30" y1="233.80" x2="56.30" y2="304.20" stroke="#000" stroke-width="1.9" stroke-linecap="butt"/>
<line x1="55.35" y1="303.30" x2="183.00" y2="303.30" stroke="#000" stroke-width="1.8" stroke-linecap="butt"/>
<line x1="51.80" y1="303.30" x2="56.30" y2="303.30" stroke="#000" stroke-width="1.5" stroke-linecap="butt"/>
<text x="51.3" y="306.6" font-size="9.5" font-weight="bold" text-anchor="end" fill="#000">0</text>
<line x1="51.80" y1="280.60" x2="56.30" y2="280.60" stroke="#000" stroke-width="1.5" stroke-linecap="butt"/>
<text x="51.3" y="283.90000000000003" font-size="9.5" font-weight="bold" text-anchor="end" fill="#000">5</text>
<line x1="51.80" y1="257.70" x2="56.30" y2="257.70" stroke="#000" stroke-width="1.5" stroke-linecap="butt"/>
<text x="51.3" y="261.0" font-size="9.5" font-weight="bold" text-anchor="end" fill="#000">10</text>
<line x1="51.80" y1="234.60" x2="56.30" y2="234.60" stroke="#000" stroke-width="1.5" stroke-linecap="butt"/>
<text x="51.3" y="237.9" font-size="9.5" font-weight="bold" text-anchor="end" fill="#000">15</text>
<line x1="51.80" y1="224.00" x2="56.30" y2="224.00" stroke="#000" stroke-width="1.5" stroke-linecap="butt"/>
<text x="51.3" y="227.3" font-size="9.5" font-weight="bold" text-anchor="end" fill="#000">20</text>
<line x1="51.80" y1="208.70" x2="56.30" y2="208.70" stroke="#000" stroke-width="1.5" stroke-linecap="butt"/>
<text x="51.3" y="212.0" font-size="9.5" font-weight="bold" text-anchor="end" fill="#000">40</text>
<line x1="51.80" y1="193.40" x2="56.30" y2="193.40" stroke="#000" stroke-width="1.5" stroke-linecap="butt"/>
<text x="51.3" y="196.70000000000002" font-size="9.5" font-weight="bold" text-anchor="end" fill="#000">60</text>
<line x1="51.80" y1="178.20" x2="56.30" y2="178.20" stroke="#000" stroke-width="1.5" stroke-linecap="butt"/>
<text x="51.3" y="181.5" font-size="9.5" font-weight="bold" text-anchor="end" fill="#000">80</text>
<line x1="72.20" y1="303.30" x2="72.20" y2="308.30" stroke="#000" stroke-width="1.8" stroke-linecap="butt"/>
<line x1="103.80" y1="303.30" x2="103.80" y2="308.30" stroke="#000" stroke-width="1.8" stroke-linecap="butt"/>
<line x1="135.30" y1="303.30" x2="135.30" y2="308.30" stroke="#000" stroke-width="1.8" stroke-linecap="butt"/>
<line x1="166.70" y1="303.30" x2="166.70" y2="308.30" stroke="#000" stroke-width="1.8" stroke-linecap="butt"/>
<line x1="72.20" y1="207.40" x2="72.20" y2="224.00" stroke="#000" stroke-width="1.35" stroke-linecap="butt"/>
<line x1="72.20" y1="234.60" x2="72.20" y2="260.50" stroke="#000" stroke-width="1.35" stroke-linecap="butt"/>
<line x1="72.20" y1="292.40" x2="72.20" y2="299.70" stroke="#000" stroke-width="1.35" stroke-linecap="butt"/>
<line x1="66.20" y1="207.40" x2="78.20" y2="207.40" stroke="#000" stroke-width="1.35" stroke-linecap="butt"/>
<line x1="66.20" y1="299.70" x2="78.20" y2="299.70" stroke="#000" stroke-width="1.35" stroke-linecap="butt"/>
<rect x="61.800000000000004" y="260.5" width="20.80" height="31.90" fill="#0c80fc" stroke="#000" stroke-width="1.3"/>
<line x1="61.80" y1="282.40" x2="82.60" y2="282.40" stroke="#000" stroke-width="1.3" stroke-linecap="butt"/>
<line x1="103.80" y1="207.20" x2="103.80" y2="224.00" stroke="#000" stroke-width="1.35" stroke-linecap="butt"/>
<line x1="103.80" y1="234.60" x2="103.80" y2="283.10" stroke="#000" stroke-width="1.35" stroke-linecap="butt"/>
<line x1="103.80" y1="295.70" x2="103.80" y2="302.80" stroke="#000" stroke-width="1.35" stroke-linecap="butt"/>
<line x1="97.80" y1="207.20" x2="109.80" y2="207.20" stroke="#000" stroke-width="1.35" stroke-linecap="butt"/>
<line x1="97.80" y1="302.80" x2="109.80" y2="302.80" stroke="#000" stroke-width="1.35" stroke-linecap="butt"/>
<rect x="93.39999999999999" y="283.1" width="20.80" height="12.60" fill="url(#hb)" stroke="#000" stroke-width="1.3"/>
<line x1="93.40" y1="290.00" x2="114.20" y2="290.00" stroke="#000" stroke-width="1.3" stroke-linecap="butt"/>
<line x1="135.30" y1="201.10" x2="135.30" y2="224.00" stroke="#000" stroke-width="1.35" stroke-linecap="butt"/>
<line x1="135.30" y1="234.60" x2="135.30" y2="253.00" stroke="#000" stroke-width="1.35" stroke-linecap="butt"/>
<line x1="135.30" y1="292.40" x2="135.30" y2="302.80" stroke="#000" stroke-width="1.35" stroke-linecap="butt"/>
<line x1="129.30" y1="201.10" x2="141.30" y2="201.10" stroke="#000" stroke-width="1.35" stroke-linecap="butt"/>
<line x1="129.30" y1="302.80" x2="141.30" y2="302.80" stroke="#000" stroke-width="1.35" stroke-linecap="butt"/>
<rect x="124.9" y="253" width="20.80" height="39.40" fill="#fb0207" stroke="#000" stroke-width="1.3"/>
<line x1="124.90" y1="280.40" x2="145.70" y2="280.40" stroke="#000" stroke-width="1.3" stroke-linecap="butt"/>
<line x1="166.70" y1="202.40" x2="166.70" y2="224.00" stroke="#000" stroke-width="1.35" stroke-linecap="butt"/>
<line x1="166.70" y1="234.60" x2="166.70" y2="265.30" stroke="#000" stroke-width="1.35" stroke-linecap="butt"/>
<line x1="166.70" y1="291.40" x2="166.70" y2="300.70" stroke="#000" stroke-width="1.35" stroke-linecap="butt"/>
<line x1="160.70" y1="202.40" x2="172.70" y2="202.40" stroke="#000" stroke-width="1.35" stroke-linecap="butt"/>
<line x1="160.70" y1="300.70" x2="172.70" y2="300.70" stroke="#000" stroke-width="1.35" stroke-linecap="butt"/>
<rect x="156.29999999999998" y="265.3" width="20.80" height="26.10" fill="url(#hr)" stroke="#000" stroke-width="1.3"/>
<line x1="156.30" y1="283.10" x2="177.10" y2="283.10" stroke="#000" stroke-width="1.3" stroke-linecap="butt"/>
<line x1="74.00" y1="189.20" x2="105.00" y2="189.20" stroke="#000" stroke-width="1.3" stroke-linecap="butt"/>
<text x="89.8" y="188.79999999999998" font-size="11.6" font-weight="bold" text-anchor="middle" fill="#000" letter-spacing="0.35">****</text>
<line x1="135.50" y1="191.20" x2="166.40" y2="191.20" stroke="#000" stroke-width="1.3" stroke-linecap="butt"/>
<text x="153.95" y="186.29999999999998" font-size="10.2" font-weight="bold" text-anchor="middle" fill="#000" font-style="italic">p=0.6488</text>
<text x="76.60000000000001" y="316.4" font-size="10.3" font-weight="bold" text-anchor="end" fill="#000" transform="rotate(-45 76.60000000000001 316.4)">Control</text>
<text x="99.8" y="322" font-size="10.3" font-weight="bold" text-anchor="end" fill="#000" transform="rotate(-45 99.8 322)">Aß42</text>
<text x="139.70000000000002" y="316.4" font-size="10.3" font-weight="bold" text-anchor="end" fill="#000" transform="rotate(-45 139.70000000000002 316.4)">Control</text>
<text x="162.7" y="322" font-size="10.3" font-weight="bold" text-anchor="end" fill="#000" transform="rotate(-45 162.7 322)">Aß42</text>
<line x1="45.00" y1="346.40" x2="92.40" y2="346.40" stroke="#111" stroke-width="1.1" stroke-linecap="butt"/>
<text x="67.7" y="356.3" font-size="8.8" font-weight="bold" text-anchor="middle" fill="#000">MFF</text>
<text x="67.7" y="367" font-size="8.8" font-weight="bold" text-anchor="middle" fill="#000">shRNA</text>
<text x="68.9" y="377.5" font-size="8.8" font-weight="bold" text-anchor="middle" fill="#000">+ WT</text>
<line x1="108.00" y1="346.40" x2="157.00" y2="346.40" stroke="#111" stroke-width="1.1" stroke-linecap="butt"/>
<text x="132.3" y="356.3" font-size="8.8" font-weight="bold" text-anchor="middle" fill="#000">MFF</text>
<text x="132.3" y="367" font-size="8.8" font-weight="bold" text-anchor="middle" fill="#000">shRNA</text>
<text x="133.5" y="377.5" font-size="8.8" font-weight="bold" text-anchor="middle" fill="#000">+ AA</text>
<text x="261" y="162" font-size="14.5" font-weight="bold" text-anchor="start" fill="#000">c</text>
<text x="364.8" y="162.3" font-size="14.5" font-weight="bold" text-anchor="middle" fill="#000">Mitochondria Density</text>
<text x="269.5" y="239.5" font-size="12.25" font-weight="normal" text-anchor="middle" fill="#000" transform="rotate(-90 269.5 239.5)">Mito length/Shaft length</text>
<line x1="298.60" y1="176.90" x2="298.60" y2="304.20" stroke="#000" stroke-width="1.9" stroke-linecap="butt"/>
<line x1="297.65" y1="303.30" x2="424.70" y2="303.30" stroke="#000" stroke-width="1.8" stroke-linecap="butt"/>
<line x1="294.10" y1="303.30" x2="298.60" y2="303.30" stroke="#000" stroke-width="1.5" stroke-linecap="butt"/>
<text x="293.6" y="306.1" font-size="9.5" font-weight="bold" text-anchor="end" fill="#000">0.0</text>
<line x1="294.10" y1="261.30" x2="298.60" y2="261.30" stroke="#000" stroke-width="1.5" stroke-linecap="butt"/>
<text x="293.6" y="264.1" font-size="9.5" font-weight="bold" text-anchor="end" fill="#000">0.5</text>
<line x1="294.10" y1="219.40" x2="298.60" y2="219.40" stroke="#000" stroke-width="1.5" stroke-linecap="butt"/>
<text x="293.6" y="222.20000000000002" font-size="9.5" font-weight="bold" text-anchor="end" fill="#000">1.0</text>
<line x1="294.10" y1="177.70" x2="298.60" y2="177.70" stroke="#000" stroke-width="1.5" stroke-linecap="butt"/>
<text x="293.6" y="180.5" font-size="9.5" font-weight="bold" text-anchor="end" fill="#000">1.5</text>
<line x1="314.40" y1="303.30" x2="314.40" y2="308.30" stroke="#000" stroke-width="1.8" stroke-linecap="butt"/>
<line x1="345.90" y1="303.30" x2="345.90" y2="308.30" stroke="#000" stroke-width="1.8" stroke-linecap="butt"/>
<line x1="377.80" y1="303.30" x2="377.80" y2="308.30" stroke="#000" stroke-width="1.8" stroke-linecap="butt"/>
<line x1="409.40" y1="303.30" x2="409.40" y2="308.30" stroke="#000" stroke-width="1.8" stroke-linecap="butt"/>
<line x1="314.40" y1="217.50" x2="314.40" y2="226.30" stroke="#000" stroke-width="1.35" stroke-linecap="butt"/>
<line x1="314.40" y1="240.40" x2="314.40" y2="255.20" stroke="#000" stroke-width="1.35" stroke-linecap="butt"/>
<line x1="308.40" y1="217.50" x2="320.40" y2="217.50" stroke="#000" stroke-width="1.35" stroke-linecap="butt"/>
<line x1="308.40" y1="255.20" x2="320.40" y2="255.20" stroke="#000" stroke-width="1.35" stroke-linecap="butt"/>
<rect x="304.0" y="226.3" width="20.80" height="14.10" fill="#0c80fc" stroke="#000" stroke-width="1.3"/>
<line x1="304.00" y1="233.90" x2="324.80" y2="233.90" stroke="#000" stroke-width="1.3" stroke-linecap="butt"/>
<line x1="345.90" y1="221.80" x2="345.90" y2="247.70" stroke="#000" stroke-width="1.35" stroke-linecap="butt"/>
<line x1="345.90" y1="261.50" x2="345.90" y2="276.40" stroke="#000" stroke-width="1.35" stroke-linecap="butt"/>
<line x1="339.90" y1="221.80" x2="351.90" y2="221.80" stroke="#000" stroke-width="1.35" stroke-linecap="butt"/>
<line x1="339.90" y1="276.40" x2="351.90" y2="276.40" stroke="#000" stroke-width="1.35" stroke-linecap="butt"/>
<rect x="335.5" y="247.7" width="20.80" height="13.80" fill="url(#hb)" stroke="#000" stroke-width="1.3"/>
<line x1="335.50" y1="259.50" x2="356.30" y2="259.50" stroke="#000" stroke-width="1.3" stroke-linecap="butt"/>
<line x1="377.80" y1="210.40" x2="377.80" y2="225.80" stroke="#000" stroke-width="1.35" stroke-linecap="butt"/>
<line x1="377.80" y1="243.20" x2="377.80" y2="267.00" stroke="#000" stroke-width="1.35" stroke-linecap="butt"/>
<line x1="371.80" y1="210.40" x2="383.80" y2="210.40" stroke="#000" stroke-width="1.35" stroke-linecap="butt"/>
<line x1="371.80" y1="267.00" x2="383.80" y2="267.00" stroke="#000" stroke-width="1.35" stroke-linecap="butt"/>
<rect x="367.40000000000003" y="225.8" width="20.80" height="17.40" fill="#fb0207" stroke="#000" stroke-width="1.3"/>
<line x1="367.40" y1="231.20" x2="388.20" y2="231.20" stroke="#000" stroke-width="1.3" stroke-linecap="butt"/>
<line x1="409.40" y1="219.00" x2="409.40" y2="229.30" stroke="#000" stroke-width="1.35" stroke-linecap="butt"/>
<line x1="409.40" y1="245.40" x2="409.40" y2="257.50" stroke="#000" stroke-width="1.35" stroke-linecap="butt"/>
<line x1="403.40" y1="219.00" x2="415.40" y2="219.00" stroke="#000" stroke-width="1.35" stroke-linecap="butt"/>
<line x1="403.40" y1="257.50" x2="415.40" y2="257.50" stroke="#000" stroke-width="1.35" stroke-linecap="butt"/>
<rect x="399.0" y="229.3" width="20.80" height="16.10" fill="url(#hr)" stroke="#000" stroke-width="1.3"/>
<line x1="399.00" y1="237.10" x2="419.80" y2="237.10" stroke="#000" stroke-width="1.3" stroke-linecap="butt"/>
<line x1="314.00" y1="197.20" x2="345.00" y2="197.20" stroke="#000" stroke-width="1.3" stroke-linecap="butt"/>
<text x="329.0" y="195.29999999999998" font-size="11.6" font-weight="bold" text-anchor="middle" fill="#000" letter-spacing="0.35">****</text>
<line x1="376.00" y1="199.50" x2="406.00" y2="199.50" stroke="#000" stroke-width="1.3" stroke-linecap="butt"/>
<text x="394.0" y="194.6" font-size="10.2" font-weight="bold" text-anchor="middle" fill="#000" font-style="italic">p=0.2072</text>
<text x="318.79999999999995" y="316.4" font-size="10.3" font-weight="bold" text-anchor="end" fill="#000" transform="rotate(-45 318.79999999999995 316.4)">Control</text>
<text x="341.9" y="322" font-size="10.3" font-weight="bold" text-anchor="end" fill="#000" transform="rotate(-45 341.9 322)">Aß42</text>
<text x="382.2" y="316.4" font-size="10.3" font-weight="bold" text-anchor="end" fill="#000" transform="rotate(-45 382.2 316.4)">Control</text>
<text x="405.4" y="322" font-size="10.3" font-weight="bold" text-anchor="end" fill="#000" transform="rotate(-45 405.4 322)">Aß42</text>
<line x1="287.00" y1="346.40" x2="334.00" y2="346.40" stroke="#111" stroke-width="1.1" stroke-linecap="butt"/>
<text x="310.7" y="356.3" font-size="8.8" font-weight="bold" text-anchor="middle" fill="#000">MFF</text>
<text x="310.7" y="367" font-size="8.8" font-weight="bold" text-anchor="middle" fill="#000">shRNA</text>
<text x="311.9" y="377.5" font-size="8.8" font-weight="bold" text-anchor="middle" fill="#000">+ WT</text>
<line x1="349.50" y1="346.40" x2="399.00" y2="346.40" stroke="#111" stroke-width="1.1" stroke-linecap="butt"/>
<text x="373.25" y="356.3" font-size="8.8" font-weight="bold" text-anchor="middle" fill="#000">MFF</text>
<text x="373.25" y="367" font-size="8.8" font-weight="bold" text-anchor="middle" fill="#000">shRNA</text>
<text x="374.45" y="377.5" font-size="8.8" font-weight="bold" text-anchor="middle" fill="#000">+ AA</text>
<text x="500.5" y="162" font-size="14.5" font-weight="bold" text-anchor="start" fill="#000">d</text>
<text x="600.5" y="162.3" font-size="14.5" font-weight="bold" text-anchor="middle" fill="#000">Spine Density</text>
<text x="509" y="240.8" font-size="13.9" font-weight="normal" text-anchor="middle" fill="#000" transform="rotate(-90 509 240.8)">Spines/μm</text>
<line x1="535.80" y1="176.40" x2="535.80" y2="304.20" stroke="#000" stroke-width="1.9" stroke-linecap="butt"/>
<line x1="534.85" y1="303.30" x2="662.00" y2="303.30" stroke="#000" stroke-width="1.8" stroke-linecap="butt"/>
<line x1="531.30" y1="303.30" x2="535.80" y2="303.30" stroke="#000" stroke-width="1.5" stroke-linecap="butt"/>
<text x="530.8" y="306.1" font-size="9.5" font-weight="bold" text-anchor="end" fill="#000">0.0</text>
<line x1="531.30" y1="271.60" x2="535.80" y2="271.60" stroke="#000" stroke-width="1.5" stroke-linecap="butt"/>
<text x="530.8" y="274.40000000000003" font-size="9.5" font-weight="bold" text-anchor="end" fill="#000">0.5</text>
<line x1="531.30" y1="239.90" x2="535.80" y2="239.90" stroke="#000" stroke-width="1.5" stroke-linecap="butt"/>
<text x="530.8" y="242.70000000000002" font-size="9.5" font-weight="bold" text-anchor="end" fill="#000">1.0</text>
<line x1="531.30" y1="208.70" x2="535.80" y2="208.70" stroke="#000" stroke-width="1.5" stroke-linecap="butt"/>
<text x="530.8" y="211.5" font-size="9.5" font-weight="bold" text-anchor="end" fill="#000">1.5</text>
<line x1="531.30" y1="177.20" x2="535.80" y2="177.20" stroke="#000" stroke-width="1.5" stroke-linecap="butt"/>
<text x="530.8" y="180.0" font-size="9.5" font-weight="bold" text-anchor="end" fill="#000">2.0</text>
<line x1="551.90" y1="303.30" x2="551.90" y2="308.30" stroke="#000" stroke-width="1.8" stroke-linecap="butt"/>
<line x1="583.30" y1="303.30" x2="583.30" y2="308.30" stroke="#000" stroke-width="1.8" stroke-linecap="butt"/>
<line x1="614.80" y1="303.30" x2="614.80" y2="308.30" stroke="#000" stroke-width="1.8" stroke-linecap="butt"/>
<line x1="646.30" y1="303.30" x2="646.30" y2="308.30" stroke="#000" stroke-width="1.8" stroke-linecap="butt"/>
<line x1="551.90" y1="207.90" x2="551.90" y2="233.40" stroke="#000" stroke-width="1.35" stroke-linecap="butt"/>
<line x1="551.90" y1="244.40" x2="551.90" y2="252.20" stroke="#000" stroke-width="1.35" stroke-linecap="butt"/>
<line x1="545.90" y1="207.90" x2="557.90" y2="207.90" stroke="#000" stroke-width="1.35" stroke-linecap="butt"/>
<line x1="545.90" y1="252.20" x2="557.90" y2="252.20" stroke="#000" stroke-width="1.35" stroke-linecap="butt"/>
<rect x="541.5" y="233.4" width="20.80" height="11.00" fill="#0c80fc" stroke="#000" stroke-width="1.3"/>
<line x1="541.50" y1="237.90" x2="562.30" y2="237.90" stroke="#000" stroke-width="1.3" stroke-linecap="butt"/>
<line x1="583.30" y1="245.20" x2="583.30" y2="257.00" stroke="#000" stroke-width="1.35" stroke-linecap="butt"/>
<line x1="583.30" y1="266.00" x2="583.30" y2="279.40" stroke="#000" stroke-width="1.35" stroke-linecap="butt"/>
<line x1="577.30" y1="245.20" x2="589.30" y2="245.20" stroke="#000" stroke-width="1.35" stroke-linecap="butt"/>
<line x1="577.30" y1="279.40" x2="589.30" y2="279.40" stroke="#000" stroke-width="1.35" stroke-linecap="butt"/>
<rect x="572.9" y="257" width="20.80" height="9.00" fill="url(#hb)" stroke="#000" stroke-width="1.3"/>
<line x1="572.90" y1="261.00" x2="593.70" y2="261.00" stroke="#000" stroke-width="1.3" stroke-linecap="butt"/>
<line x1="614.80" y1="215.00" x2="614.80" y2="232.60" stroke="#000" stroke-width="1.35" stroke-linecap="butt"/>
<line x1="614.80" y1="248.70" x2="614.80" y2="264.50" stroke="#000" stroke-width="1.35" stroke-linecap="butt"/>
<line x1="608.80" y1="215.00" x2="620.80" y2="215.00" stroke="#000" stroke-width="1.35" stroke-linecap="butt"/>
<line x1="608.80" y1="264.50" x2="620.80" y2="264.50" stroke="#000" stroke-width="1.35" stroke-linecap="butt"/>
<rect x="604.4" y="232.6" width="20.80" height="16.10" fill="#fb0207" stroke="#000" stroke-width="1.3"/>
<line x1="604.40" y1="240.10" x2="625.20" y2="240.10" stroke="#000" stroke-width="1.3" stroke-linecap="butt"/>
<line x1="646.30" y1="212.20" x2="646.30" y2="234.90" stroke="#000" stroke-width="1.35" stroke-linecap="butt"/>
<line x1="646.30" y1="247.20" x2="646.30" y2="264.00" stroke="#000" stroke-width="1.35" stroke-linecap="butt"/>
<line x1="640.30" y1="212.20" x2="652.30" y2="212.20" stroke="#000" stroke-width="1.35" stroke-linecap="butt"/>
<line x1="640.30" y1="264.00" x2="652.30" y2="264.00" stroke="#000" stroke-width="1.35" stroke-linecap="butt"/>
<rect x="635.9" y="234.9" width="20.80" height="12.30" fill="url(#hr)" stroke="#000" stroke-width="1.3"/>
<line x1="635.90" y1="239.40" x2="656.70" y2="239.40" stroke="#000" stroke-width="1.3" stroke-linecap="butt"/>
<line x1="553.00" y1="199.50" x2="583.70" y2="199.50" stroke="#000" stroke-width="1.3" stroke-linecap="butt"/>
<text x="567.5500000000001" y="199.8" font-size="11.6" font-weight="bold" text-anchor="middle" fill="#000" letter-spacing="0.35">****</text>
<line x1="614.50" y1="201.50" x2="645.00" y2="201.50" stroke="#000" stroke-width="1.3" stroke-linecap="butt"/>
<text x="632.75" y="196.6" font-size="10.2" font-weight="bold" text-anchor="middle" fill="#000" font-style="italic">p=0.9726</text>
<text x="556.3" y="316.4" font-size="10.3" font-weight="bold" text-anchor="end" fill="#000" transform="rotate(-45 556.3 316.4)">Control</text>
<text x="579.3" y="322" font-size="10.3" font-weight="bold" text-anchor="end" fill="#000" transform="rotate(-45 579.3 322)">Aß42</text>
<text x="619.1999999999999" y="316.4" font-size="10.3" font-weight="bold" text-anchor="end" fill="#000" transform="rotate(-45 619.1999999999999 316.4)">Control</text>
<text x="642.3" y="322" font-size="10.3" font-weight="bold" text-anchor="end" fill="#000" transform="rotate(-45 642.3 322)">Aß42</text>
<line x1="524.00" y1="346.40" x2="572.00" y2="346.40" stroke="#111" stroke-width="1.1" stroke-linecap="butt"/>
<text x="547.0" y="356.3" font-size="8.8" font-weight="bold" text-anchor="middle" fill="#000">MFF</text>
<text x="547.0" y="367" font-size="8.8" font-weight="bold" text-anchor="middle" fill="#000">shRNA</text>
<text x="548.2" y="377.5" font-size="8.8" font-weight="bold" text-anchor="middle" fill="#000">+ WT</text>
<line x1="587.00" y1="346.40" x2="636.50" y2="346.40" stroke="#111" stroke-width="1.1" stroke-linecap="butt"/>
<text x="611.75" y="356.3" font-size="8.8" font-weight="bold" text-anchor="middle" fill="#000">MFF</text>
<text x="611.75" y="367" font-size="8.8" font-weight="bold" text-anchor="middle" fill="#000">shRNA</text>
<text x="612.95" y="377.5" font-size="8.8" font-weight="bold" text-anchor="middle" fill="#000">+ AA</text>
</svg>
</body></html>
